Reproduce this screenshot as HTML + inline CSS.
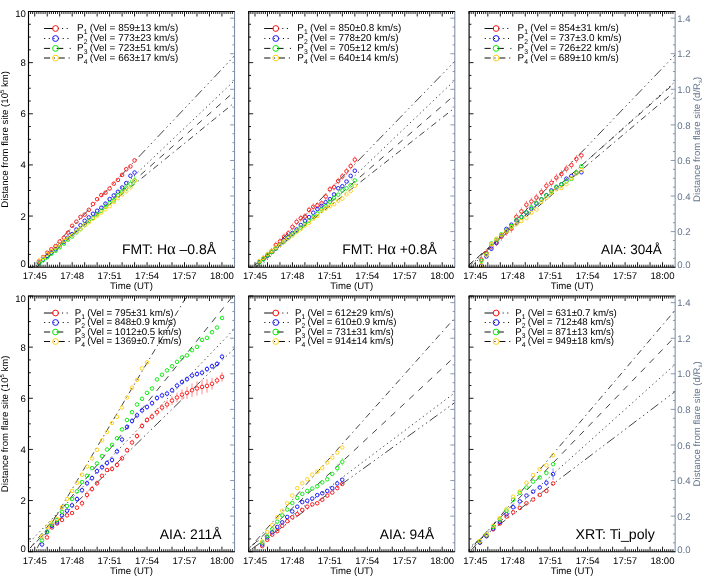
<!DOCTYPE html>
<html><head><meta charset="utf-8"><title>chart</title>
<style>
html,body{margin:0;padding:0;background:#fff;overflow:hidden}
svg{display:block;will-change:transform}
text{font-family:"Liberation Sans",sans-serif;text-rendering:geometricPrecision}
</style></head><body>
<svg width="710" height="581" viewBox="0 0 710 581">
<rect x="0" y="0" width="710" height="581" fill="#ffffff"/>
<defs>
<clipPath id="cp0"><rect x="28.5" y="11.5" width="206.05" height="255.7"/></clipPath>
<clipPath id="cp1"><rect x="248.75" y="11.5" width="206.05" height="255.7"/></clipPath>
<clipPath id="cp2"><rect x="469.1" y="11.5" width="206.05" height="255.7"/></clipPath>
<clipPath id="cp3"><rect x="28.5" y="296" width="206.05" height="255.7"/></clipPath>
<clipPath id="cp4"><rect x="248.75" y="296" width="206.05" height="255.7"/></clipPath>
<clipPath id="cp5"><rect x="469.1" y="296" width="206.05" height="255.7"/></clipPath>
</defs>
<g>
<g clip-path="url(#cp0)" fill="none" stroke="#1a1a1a" stroke-width="0.82">
<path d="M239.55 50.53 L23.5 278.43" stroke-dasharray="9.7 3.2 1.4 3.4 1.4 3.4 1.4 3.5"/>
<path d="M239.55 75.75 L23.5 280.97" stroke-dasharray="1.3 3.2"/>
<path d="M239.55 86.96 L23.5 278.9" stroke-dasharray="6.3 6.3"/>
<path d="M239.55 98.53 L23.5 274.54" stroke-dasharray="6.3 3.7 1.3 3.7"/>
</g>
<path clip-path="url(#cp0)" d="M0 0" stroke="#ff8888" stroke-width="1.0" fill="none"/>
<g clip-path="url(#cp0)" fill="none" stroke="#ff1414" stroke-width="0.95"><circle cx="38.9" cy="261.6" r="1.78"/><circle cx="43.06" cy="257" r="1.78"/><circle cx="47.22" cy="252.7" r="1.78"/><circle cx="51.38" cy="249.2" r="1.78"/><circle cx="55.54" cy="246.1" r="1.78"/><circle cx="59.7" cy="241.5" r="1.78"/><circle cx="63.86" cy="237.8" r="1.78"/><circle cx="68.02" cy="232.6" r="1.78"/><circle cx="72.18" cy="225.8" r="1.78"/><circle cx="76.34" cy="221.7" r="1.78"/><circle cx="80.5" cy="216.9" r="1.78"/><circle cx="84.66" cy="214.6" r="1.78"/><circle cx="88.82" cy="209.8" r="1.78"/><circle cx="92.98" cy="204" r="1.78"/><circle cx="97.14" cy="199.2" r="1.78"/><circle cx="101.3" cy="195.1" r="1.78"/><circle cx="105.46" cy="192.7" r="1.78"/><circle cx="109.62" cy="188.5" r="1.78"/><circle cx="113.78" cy="183.7" r="1.78"/><circle cx="117.94" cy="179.9" r="1.78"/><circle cx="122.1" cy="174.9" r="1.78"/><circle cx="126.26" cy="169.2" r="1.78"/><circle cx="130.42" cy="166.4" r="1.78"/><circle cx="134.58" cy="160.4" r="1.78"/></g>
<path clip-path="url(#cp0)" d="M0 0" stroke="#8c8cff" stroke-width="1.0" fill="none"/>
<g clip-path="url(#cp0)" fill="none" stroke="#1616ff" stroke-width="0.95"><circle cx="38.9" cy="262.84" r="1.78"/><circle cx="43.06" cy="259.59" r="1.78"/><circle cx="47.22" cy="256.04" r="1.78"/><circle cx="51.38" cy="252.69" r="1.78"/><circle cx="55.54" cy="249.33" r="1.78"/><circle cx="59.7" cy="245.18" r="1.78"/><circle cx="63.86" cy="241.83" r="1.78"/><circle cx="68.02" cy="237.68" r="1.78"/><circle cx="72.18" cy="234.13" r="1.78"/><circle cx="76.34" cy="229.58" r="1.78"/><circle cx="80.5" cy="225.23" r="1.78"/><circle cx="84.66" cy="220.77" r="1.78"/><circle cx="88.82" cy="217.42" r="1.78"/><circle cx="92.98" cy="213.77" r="1.78"/><circle cx="97.14" cy="210.77" r="1.78"/><circle cx="101.3" cy="207.77" r="1.78"/><circle cx="105.46" cy="203.62" r="1.78"/><circle cx="109.62" cy="199.07" r="1.78"/><circle cx="113.78" cy="195.46" r="1.78"/><circle cx="117.94" cy="191.76" r="1.78"/><circle cx="122.1" cy="187.56" r="1.78"/><circle cx="126.26" cy="183.06" r="1.78"/><circle cx="130.42" cy="175.81" r="1.78"/><circle cx="134.58" cy="172.56" r="1.78"/></g>
<path clip-path="url(#cp0)" d="M122.1 188.4V189.6M122.1 193.6V194.8M126.26 184.11V185.71M126.26 189.71V191.31M130.42 179.71V181.91M130.42 185.91V188.11M134.58 176.02V178.42M134.58 182.42V184.82" stroke="#7aee7a" stroke-width="1.0" fill="none"/>
<g clip-path="url(#cp0)" fill="none" stroke="#08ec08" stroke-width="0.95"><circle cx="38.9" cy="263.32" r="1.78"/><circle cx="43.06" cy="260.12" r="1.78"/><circle cx="47.22" cy="257.23" r="1.78"/><circle cx="51.38" cy="253.73" r="1.78"/><circle cx="55.54" cy="250.74" r="1.78"/><circle cx="59.7" cy="247.34" r="1.78"/><circle cx="63.86" cy="243.64" r="1.78"/><circle cx="68.02" cy="239.55" r="1.78"/><circle cx="72.18" cy="236.45" r="1.78"/><circle cx="76.34" cy="232.36" r="1.78"/><circle cx="80.5" cy="229.16" r="1.78"/><circle cx="84.66" cy="225.07" r="1.78"/><circle cx="88.82" cy="221.07" r="1.78"/><circle cx="92.98" cy="217.87" r="1.78"/><circle cx="97.14" cy="214.38" r="1.78"/><circle cx="101.3" cy="210.78" r="1.78"/><circle cx="105.46" cy="206.89" r="1.78"/><circle cx="109.62" cy="202.99" r="1.78"/><circle cx="113.78" cy="200.29" r="1.78"/><circle cx="117.94" cy="195.2" r="1.78"/><circle cx="122.1" cy="191.6" r="1.78"/><circle cx="126.26" cy="187.71" r="1.78"/><circle cx="130.42" cy="183.91" r="1.78"/><circle cx="134.58" cy="180.42" r="1.78"/></g>
<path clip-path="url(#cp0)" d="M0 0" stroke="#ffe07a" stroke-width="1.0" fill="none"/>
<g clip-path="url(#cp0)" fill="none" stroke="#ffd118" stroke-width="0.95"><circle cx="38.9" cy="260.49" r="1.78"/><circle cx="43.06" cy="257.61" r="1.78"/><circle cx="47.22" cy="253.82" r="1.78"/><circle cx="51.38" cy="251.23" r="1.78"/><circle cx="55.54" cy="247.54" r="1.78"/><circle cx="59.7" cy="244.85" r="1.78"/><circle cx="63.86" cy="241.06" r="1.78"/><circle cx="68.02" cy="238.47" r="1.78"/><circle cx="72.18" cy="235.38" r="1.78"/><circle cx="76.34" cy="231.79" r="1.78"/><circle cx="80.5" cy="229" r="1.78"/><circle cx="84.66" cy="225.31" r="1.78"/><circle cx="88.82" cy="222.33" r="1.78"/><circle cx="92.98" cy="218.74" r="1.78"/><circle cx="97.14" cy="215.75" r="1.78"/><circle cx="101.3" cy="212.56" r="1.78"/><circle cx="105.46" cy="209.27" r="1.78"/><circle cx="109.62" cy="206.28" r="1.78"/><circle cx="113.78" cy="201.99" r="1.78"/><circle cx="117.94" cy="198.2" r="1.78"/><circle cx="122.1" cy="194.41" r="1.78"/><circle cx="126.26" cy="191.22" r="1.78"/><circle cx="130.42" cy="187.53" r="1.78"/><circle cx="134.58" cy="180.94" r="1.78"/></g>
<path d="M28.5 267.2v-2.5M28.5 11.5v2.5M30.58 267.2v-2.5M30.58 11.5v2.5M32.66 267.2v-2.5M32.66 11.5v2.5M34.74 267.2v-5M34.74 11.5v5M36.82 267.2v-2.5M36.82 11.5v2.5M38.9 267.2v-2.5M38.9 11.5v2.5M40.98 267.2v-2.5M40.98 11.5v2.5M43.06 267.2v-2.5M43.06 11.5v2.5M45.14 267.2v-2.5M45.14 11.5v2.5M47.22 267.2v-5M47.22 11.5v5M49.3 267.2v-2.5M49.3 11.5v2.5M51.38 267.2v-2.5M51.38 11.5v2.5M53.46 267.2v-2.5M53.46 11.5v2.5M55.54 267.2v-2.5M55.54 11.5v2.5M57.62 267.2v-2.5M57.62 11.5v2.5M59.7 267.2v-5M59.7 11.5v5M61.78 267.2v-2.5M61.78 11.5v2.5M63.86 267.2v-2.5M63.86 11.5v2.5M65.94 267.2v-2.5M65.94 11.5v2.5M68.02 267.2v-2.5M68.02 11.5v2.5M70.1 267.2v-2.5M70.1 11.5v2.5M72.18 267.2v-5M72.18 11.5v5M74.26 267.2v-2.5M74.26 11.5v2.5M76.34 267.2v-2.5M76.34 11.5v2.5M78.42 267.2v-2.5M78.42 11.5v2.5M80.5 267.2v-2.5M80.5 11.5v2.5M82.58 267.2v-2.5M82.58 11.5v2.5M84.66 267.2v-5M84.66 11.5v5M86.74 267.2v-2.5M86.74 11.5v2.5M88.82 267.2v-2.5M88.82 11.5v2.5M90.9 267.2v-2.5M90.9 11.5v2.5M92.98 267.2v-2.5M92.98 11.5v2.5M95.06 267.2v-2.5M95.06 11.5v2.5M97.14 267.2v-5M97.14 11.5v5M99.22 267.2v-2.5M99.22 11.5v2.5M101.3 267.2v-2.5M101.3 11.5v2.5M103.38 267.2v-2.5M103.38 11.5v2.5M105.46 267.2v-2.5M105.46 11.5v2.5M107.54 267.2v-2.5M107.54 11.5v2.5M109.62 267.2v-5M109.62 11.5v5M111.7 267.2v-2.5M111.7 11.5v2.5M113.78 267.2v-2.5M113.78 11.5v2.5M115.86 267.2v-2.5M115.86 11.5v2.5M117.94 267.2v-2.5M117.94 11.5v2.5M120.02 267.2v-2.5M120.02 11.5v2.5M122.1 267.2v-5M122.1 11.5v5M124.18 267.2v-2.5M124.18 11.5v2.5M126.26 267.2v-2.5M126.26 11.5v2.5M128.34 267.2v-2.5M128.34 11.5v2.5M130.42 267.2v-2.5M130.42 11.5v2.5M132.5 267.2v-2.5M132.5 11.5v2.5M134.58 267.2v-5M134.58 11.5v5M136.66 267.2v-2.5M136.66 11.5v2.5M138.74 267.2v-2.5M138.74 11.5v2.5M140.82 267.2v-2.5M140.82 11.5v2.5M142.9 267.2v-2.5M142.9 11.5v2.5M144.98 267.2v-2.5M144.98 11.5v2.5M147.06 267.2v-5M147.06 11.5v5M149.14 267.2v-2.5M149.14 11.5v2.5M151.22 267.2v-2.5M151.22 11.5v2.5M153.3 267.2v-2.5M153.3 11.5v2.5M155.38 267.2v-2.5M155.38 11.5v2.5M157.46 267.2v-2.5M157.46 11.5v2.5M159.54 267.2v-5M159.54 11.5v5M161.62 267.2v-2.5M161.62 11.5v2.5M163.7 267.2v-2.5M163.7 11.5v2.5M165.78 267.2v-2.5M165.78 11.5v2.5M167.86 267.2v-2.5M167.86 11.5v2.5M169.94 267.2v-2.5M169.94 11.5v2.5M172.02 267.2v-5M172.02 11.5v5M174.1 267.2v-2.5M174.1 11.5v2.5M176.18 267.2v-2.5M176.18 11.5v2.5M178.26 267.2v-2.5M178.26 11.5v2.5M180.34 267.2v-2.5M180.34 11.5v2.5M182.42 267.2v-2.5M182.42 11.5v2.5M184.5 267.2v-5M184.5 11.5v5M186.58 267.2v-2.5M186.58 11.5v2.5M188.66 267.2v-2.5M188.66 11.5v2.5M190.74 267.2v-2.5M190.74 11.5v2.5M192.82 267.2v-2.5M192.82 11.5v2.5M194.9 267.2v-2.5M194.9 11.5v2.5M196.98 267.2v-5M196.98 11.5v5M199.06 267.2v-2.5M199.06 11.5v2.5M201.14 267.2v-2.5M201.14 11.5v2.5M203.22 267.2v-2.5M203.22 11.5v2.5M205.3 267.2v-2.5M205.3 11.5v2.5M207.38 267.2v-2.5M207.38 11.5v2.5M209.46 267.2v-5M209.46 11.5v5M211.54 267.2v-2.5M211.54 11.5v2.5M213.62 267.2v-2.5M213.62 11.5v2.5M215.7 267.2v-2.5M215.7 11.5v2.5M217.78 267.2v-2.5M217.78 11.5v2.5M219.86 267.2v-2.5M219.86 11.5v2.5M221.94 267.2v-5M221.94 11.5v5M224.02 267.2v-2.5M224.02 11.5v2.5M226.1 267.2v-2.5M226.1 11.5v2.5M228.18 267.2v-2.5M228.18 11.5v2.5M230.26 267.2v-2.5M230.26 11.5v2.5M232.34 267.2v-2.5M232.34 11.5v2.5M28.5 267.2h4.4M28.5 254.41h2.3M28.5 241.63h2.3M28.5 228.84h2.3M28.5 216.06h4.4M28.5 203.27h2.3M28.5 190.49h2.3M28.5 177.7h2.3M28.5 164.92h4.4M28.5 152.13h2.3M28.5 139.35h2.3M28.5 126.56h2.3M28.5 113.78h4.4M28.5 100.99h2.3M28.5 88.21h2.3M28.5 75.42h2.3M28.5 62.64h4.4M28.5 49.85h2.3M28.5 37.07h2.3M28.5 24.28h2.3M28.5 11.5h4.4" stroke="#000" stroke-width="0.9" fill="none"/>
<path d="M234.55 267.2h-4.4M234.55 258.31h-2.2M234.55 249.41h-2.2M234.55 240.52h-2.2M234.55 231.62h-4.4M234.55 222.73h-2.2M234.55 213.83h-2.2M234.55 204.94h-2.2M234.55 196.04h-4.4M234.55 187.15h-2.2M234.55 178.25h-2.2M234.55 169.36h-2.2M234.55 160.47h-4.4M234.55 151.57h-2.2M234.55 142.68h-2.2M234.55 133.78h-2.2M234.55 124.89h-4.4M234.55 115.99h-2.2M234.55 107.1h-2.2M234.55 98.2h-2.2M234.55 89.31h-4.4M234.55 80.41h-2.2M234.55 71.52h-2.2M234.55 62.63h-2.2M234.55 53.73h-4.4M234.55 44.84h-2.2M234.55 35.94h-2.2M234.55 27.05h-2.2M234.55 18.15h-4.4" stroke="#7d8ca3" stroke-width="0.9" fill="none"/>
<path d="M234.55 11.5V267.2" stroke="#7d8ca3" stroke-width="1.05" fill="none"/>
<path d="M234.85 11.5H28.5V267.2H234.85" stroke="#000" stroke-width="1.15" fill="none" stroke-linejoin="miter"/>
<path d="M43.9 28.5h9.4 M57.8 28.5h1.1 M62 28.5h1.1 M66.6 28.5h1.1" stroke="#111" stroke-width="1" fill="none"/>
<circle cx="55.5" cy="28.5" r="2.9" fill="none" stroke="#ff1414" stroke-width="1.0"/>
<text x="77" y="31.2" font-size="9.95">P<tspan dy="2.8" font-size="6.8">1</tspan><tspan dy="-2.8" dx="-0.5"> (Vel = 859±13 km/s)</tspan></text>
<path d="M44.1 38.5h1.1M48.75 38.5h1.1M53.4 38.5h1.1M58.05 38.5h1.1M62.7 38.5h1.1M67.35 38.5h1.1" stroke="#111" stroke-width="1" fill="none"/>
<circle cx="55.5" cy="38.5" r="2.9" fill="none" stroke="#1616ff" stroke-width="1.0"/>
<text x="77" y="41.2" font-size="9.95">P<tspan dy="2.8" font-size="6.8">2</tspan><tspan dy="-2.8" dx="-0.5"> (Vel = 773±23 km/s)</tspan></text>
<path d="M43.9 48.4h6.2 M56.7 48.4h6.6 M69.7 48.4h1.1" stroke="#111" stroke-width="1" fill="none"/>
<circle cx="55.5" cy="48.4" r="2.9" fill="none" stroke="#08ec08" stroke-width="1.0"/>
<text x="77" y="51.1" font-size="9.95">P<tspan dy="2.8" font-size="6.8">3</tspan><tspan dy="-2.8" dx="-0.5"> (Vel = 723±51 km/s)</tspan></text>
<path d="M43.9 58h6.2 M53.8 58h1.1 M58.6 58h6.2 M68.6 58h1.1" stroke="#111" stroke-width="1" fill="none"/>
<circle cx="55.5" cy="58" r="2.9" fill="none" stroke="#ffd118" stroke-width="1.0"/>
<text x="77" y="60.7" font-size="9.95">P<tspan dy="2.8" font-size="6.8">4</tspan><tspan dy="-2.8" dx="-0.5"> (Vel = 663±17 km/s)</tspan></text>
<text x="121.9" y="254.3" font-size="14">FMT: H<tspan font-family="Liberation Serif, serif" font-style="normal" font-size="16.5">α</tspan> –0.8Å</text>
<text x="34.74" y="279.2" font-size="9.6" text-anchor="middle">17:45</text>
<text x="72.18" y="279.2" font-size="9.6" text-anchor="middle">17:48</text>
<text x="109.62" y="279.2" font-size="9.6" text-anchor="middle">17:51</text>
<text x="147.06" y="279.2" font-size="9.6" text-anchor="middle">17:54</text>
<text x="184.5" y="279.2" font-size="9.6" text-anchor="middle">17:57</text>
<text x="221.94" y="279.2" font-size="9.6" text-anchor="middle">18:00</text>
<text x="131.53" y="289.3" font-size="9.6" text-anchor="middle">Time (UT)</text>
<text x="25.8" y="266.85" font-size="9.6" text-anchor="end">0</text>
<text x="25.8" y="219.51" font-size="9.6" text-anchor="end">2</text>
<text x="25.8" y="168.37" font-size="9.6" text-anchor="end">4</text>
<text x="25.8" y="117.23" font-size="9.6" text-anchor="end">6</text>
<text x="25.8" y="66.09" font-size="9.6" text-anchor="end">8</text>
<text x="25.8" y="17.25" font-size="9.6" text-anchor="end">10</text>
<text transform="translate(8.0 139.35) rotate(-90)" font-size="9.6" text-anchor="middle">Distance from flare site (10<tspan dy="-3.6" font-size="6">5</tspan><tspan dy="3.6"> km)</tspan></text>
</g>
<g>
<g clip-path="url(#cp1)" fill="none" stroke="#1a1a1a" stroke-width="0.82">
<path d="M459.8 56.16 L243.75 278.4" stroke-dasharray="9.7 3.2 1.4 3.4 1.4 3.4 1.4 3.5"/>
<path d="M459.8 75.42 L243.75 281.97" stroke-dasharray="1.3 3.2"/>
<path d="M459.8 90.57 L243.75 277.73" stroke-dasharray="6.3 6.3"/>
<path d="M459.8 103.87 L243.75 273.78" stroke-dasharray="6.3 3.7 1.3 3.7"/>
</g>
<path clip-path="url(#cp1)" d="M259.15 258.8V260.2M259.15 264.2V265.6M263.31 255.1V256.5M263.31 260.5V261.9M267.47 252V253.4M267.47 257.4V258.8M271.63 247.8V249.2M271.63 253.2V254.6M275.79 241.6V243M275.79 247V248.4M279.95 238.1V239.5M279.95 243.5V244.9M284.11 233.4V234.8M284.11 238.8V240.2M288.27 229.9V231.3M288.27 235.3V236.7M292.43 223.5V224.9M292.43 228.9V230.3M296.59 218.5V219.9M296.59 223.9V225.3M300.75 214.8V216.2M300.75 220.2V221.6M304.91 213.1V214.5M304.91 218.5V219.9M309.07 206.5V207.9M309.07 211.9V213.3M313.23 203.4V204.8M313.23 208.8V210.2M317.39 202V203.4M317.39 207.4V208.8M321.55 199.9V201.3M321.55 205.3V206.7M325.71 193.1V194.5M325.71 198.5V199.9M329.87 185.9V187.3M329.87 191.3V192.7M334.03 183.8V185.2M334.03 189.2V190.6M338.19 177.6V179M338.19 183V184.4M342.35 173V174.4M342.35 178.4V179.8M346.51 167.9V169.3M346.51 173.3V174.7M350.67 162.7V164.1M350.67 168.1V169.5M354.83 156.3V157.7M354.83 161.7V163.1" stroke="#ff8888" stroke-width="1.0" fill="none"/>
<g clip-path="url(#cp1)" fill="none" stroke="#ff1414" stroke-width="0.95"><circle cx="259.15" cy="262.2" r="1.78"/><circle cx="263.31" cy="258.5" r="1.78"/><circle cx="267.47" cy="255.4" r="1.78"/><circle cx="271.63" cy="251.2" r="1.78"/><circle cx="275.79" cy="245" r="1.78"/><circle cx="279.95" cy="241.5" r="1.78"/><circle cx="284.11" cy="236.8" r="1.78"/><circle cx="288.27" cy="233.3" r="1.78"/><circle cx="292.43" cy="226.9" r="1.78"/><circle cx="296.59" cy="221.9" r="1.78"/><circle cx="300.75" cy="218.2" r="1.78"/><circle cx="304.91" cy="216.5" r="1.78"/><circle cx="309.07" cy="209.9" r="1.78"/><circle cx="313.23" cy="206.8" r="1.78"/><circle cx="317.39" cy="205.4" r="1.78"/><circle cx="321.55" cy="203.3" r="1.78"/><circle cx="325.71" cy="196.5" r="1.78"/><circle cx="329.87" cy="189.3" r="1.78"/><circle cx="334.03" cy="187.2" r="1.78"/><circle cx="338.19" cy="181" r="1.78"/><circle cx="342.35" cy="176.4" r="1.78"/><circle cx="346.51" cy="171.3" r="1.78"/><circle cx="350.67" cy="166.1" r="1.78"/><circle cx="354.83" cy="159.7" r="1.78"/></g>
<path clip-path="url(#cp1)" d="M0 0" stroke="#8c8cff" stroke-width="1.0" fill="none"/>
<g clip-path="url(#cp1)" fill="none" stroke="#1616ff" stroke-width="0.95"><circle cx="259.15" cy="262.24" r="1.78"/><circle cx="263.31" cy="259.07" r="1.78"/><circle cx="267.47" cy="255.69" r="1.78"/><circle cx="271.63" cy="251.91" r="1.78"/><circle cx="275.79" cy="248.33" r="1.78"/><circle cx="279.95" cy="244.56" r="1.78"/><circle cx="284.11" cy="240.58" r="1.78"/><circle cx="288.27" cy="237" r="1.78"/><circle cx="292.43" cy="233.03" r="1.78"/><circle cx="296.59" cy="229.45" r="1.78"/><circle cx="300.75" cy="225.07" r="1.78"/><circle cx="304.91" cy="220.9" r="1.78"/><circle cx="309.07" cy="217.12" r="1.78"/><circle cx="313.23" cy="212.74" r="1.78"/><circle cx="317.39" cy="209.06" r="1.78"/><circle cx="321.55" cy="205.89" r="1.78"/><circle cx="325.71" cy="202.21" r="1.78"/><circle cx="329.87" cy="199.13" r="1.78"/><circle cx="334.03" cy="194.46" r="1.78"/><circle cx="338.19" cy="188.28" r="1.78"/><circle cx="342.35" cy="186.3" r="1.78"/><circle cx="346.51" cy="181.53" r="1.78"/><circle cx="350.67" cy="175.85" r="1.78"/><circle cx="354.83" cy="170.77" r="1.78"/></g>
<path clip-path="url(#cp1)" d="M0 0" stroke="#7aee7a" stroke-width="1.0" fill="none"/>
<g clip-path="url(#cp1)" fill="none" stroke="#08ec08" stroke-width="0.95"><circle cx="259.15" cy="262.49" r="1.78"/><circle cx="263.31" cy="259.19" r="1.78"/><circle cx="267.47" cy="255.38" r="1.78"/><circle cx="271.63" cy="252.18" r="1.78"/><circle cx="275.79" cy="248.38" r="1.78"/><circle cx="279.95" cy="244.77" r="1.78"/><circle cx="284.11" cy="241.57" r="1.78"/><circle cx="288.27" cy="237.77" r="1.78"/><circle cx="292.43" cy="234.16" r="1.78"/><circle cx="296.59" cy="230.96" r="1.78"/><circle cx="300.75" cy="227.55" r="1.78"/><circle cx="304.91" cy="223.75" r="1.78"/><circle cx="309.07" cy="220.55" r="1.78"/><circle cx="313.23" cy="216.64" r="1.78"/><circle cx="317.39" cy="213.44" r="1.78"/><circle cx="321.55" cy="209.34" r="1.78"/><circle cx="325.71" cy="206.13" r="1.78"/><circle cx="329.87" cy="201.83" r="1.78"/><circle cx="334.03" cy="198.02" r="1.78"/><circle cx="338.19" cy="194.72" r="1.78"/><circle cx="342.35" cy="190.42" r="1.78"/><circle cx="346.51" cy="188.31" r="1.78"/><circle cx="350.67" cy="185.21" r="1.78"/><circle cx="354.83" cy="180.5" r="1.78"/></g>
<path clip-path="url(#cp1)" d="M0 0" stroke="#ffe07a" stroke-width="1.0" fill="none"/>
<g clip-path="url(#cp1)" fill="none" stroke="#ffd118" stroke-width="0.95"><circle cx="259.15" cy="261.17" r="1.78"/><circle cx="263.31" cy="257.99" r="1.78"/><circle cx="267.47" cy="254.12" r="1.78"/><circle cx="271.63" cy="251.15" r="1.78"/><circle cx="275.79" cy="247.58" r="1.78"/><circle cx="279.95" cy="244.81" r="1.78"/><circle cx="284.11" cy="241.14" r="1.78"/><circle cx="288.27" cy="238.36" r="1.78"/><circle cx="292.43" cy="235.49" r="1.78"/><circle cx="296.59" cy="231.92" r="1.78"/><circle cx="300.75" cy="229.15" r="1.78"/><circle cx="304.91" cy="225.58" r="1.78"/><circle cx="309.07" cy="222.71" r="1.78"/><circle cx="313.23" cy="218.64" r="1.78"/><circle cx="317.39" cy="216.06" r="1.78"/><circle cx="321.55" cy="211.09" r="1.78"/><circle cx="325.71" cy="208.62" r="1.78"/><circle cx="329.87" cy="206.35" r="1.78"/><circle cx="334.03" cy="204.18" r="1.78"/><circle cx="338.19" cy="200.71" r="1.78"/><circle cx="342.35" cy="198.63" r="1.78"/><circle cx="346.51" cy="194.46" r="1.78"/><circle cx="350.67" cy="190.99" r="1.78"/><circle cx="354.83" cy="185.82" r="1.78"/></g>
<path d="M248.75 267.2v-2.5M248.75 11.5v2.5M250.83 267.2v-2.5M250.83 11.5v2.5M252.91 267.2v-2.5M252.91 11.5v2.5M254.99 267.2v-5M254.99 11.5v5M257.07 267.2v-2.5M257.07 11.5v2.5M259.15 267.2v-2.5M259.15 11.5v2.5M261.23 267.2v-2.5M261.23 11.5v2.5M263.31 267.2v-2.5M263.31 11.5v2.5M265.39 267.2v-2.5M265.39 11.5v2.5M267.47 267.2v-5M267.47 11.5v5M269.55 267.2v-2.5M269.55 11.5v2.5M271.63 267.2v-2.5M271.63 11.5v2.5M273.71 267.2v-2.5M273.71 11.5v2.5M275.79 267.2v-2.5M275.79 11.5v2.5M277.87 267.2v-2.5M277.87 11.5v2.5M279.95 267.2v-5M279.95 11.5v5M282.03 267.2v-2.5M282.03 11.5v2.5M284.11 267.2v-2.5M284.11 11.5v2.5M286.19 267.2v-2.5M286.19 11.5v2.5M288.27 267.2v-2.5M288.27 11.5v2.5M290.35 267.2v-2.5M290.35 11.5v2.5M292.43 267.2v-5M292.43 11.5v5M294.51 267.2v-2.5M294.51 11.5v2.5M296.59 267.2v-2.5M296.59 11.5v2.5M298.67 267.2v-2.5M298.67 11.5v2.5M300.75 267.2v-2.5M300.75 11.5v2.5M302.83 267.2v-2.5M302.83 11.5v2.5M304.91 267.2v-5M304.91 11.5v5M306.99 267.2v-2.5M306.99 11.5v2.5M309.07 267.2v-2.5M309.07 11.5v2.5M311.15 267.2v-2.5M311.15 11.5v2.5M313.23 267.2v-2.5M313.23 11.5v2.5M315.31 267.2v-2.5M315.31 11.5v2.5M317.39 267.2v-5M317.39 11.5v5M319.47 267.2v-2.5M319.47 11.5v2.5M321.55 267.2v-2.5M321.55 11.5v2.5M323.63 267.2v-2.5M323.63 11.5v2.5M325.71 267.2v-2.5M325.71 11.5v2.5M327.79 267.2v-2.5M327.79 11.5v2.5M329.87 267.2v-5M329.87 11.5v5M331.95 267.2v-2.5M331.95 11.5v2.5M334.03 267.2v-2.5M334.03 11.5v2.5M336.11 267.2v-2.5M336.11 11.5v2.5M338.19 267.2v-2.5M338.19 11.5v2.5M340.27 267.2v-2.5M340.27 11.5v2.5M342.35 267.2v-5M342.35 11.5v5M344.43 267.2v-2.5M344.43 11.5v2.5M346.51 267.2v-2.5M346.51 11.5v2.5M348.59 267.2v-2.5M348.59 11.5v2.5M350.67 267.2v-2.5M350.67 11.5v2.5M352.75 267.2v-2.5M352.75 11.5v2.5M354.83 267.2v-5M354.83 11.5v5M356.91 267.2v-2.5M356.91 11.5v2.5M358.99 267.2v-2.5M358.99 11.5v2.5M361.07 267.2v-2.5M361.07 11.5v2.5M363.15 267.2v-2.5M363.15 11.5v2.5M365.23 267.2v-2.5M365.23 11.5v2.5M367.31 267.2v-5M367.31 11.5v5M369.39 267.2v-2.5M369.39 11.5v2.5M371.47 267.2v-2.5M371.47 11.5v2.5M373.55 267.2v-2.5M373.55 11.5v2.5M375.63 267.2v-2.5M375.63 11.5v2.5M377.71 267.2v-2.5M377.71 11.5v2.5M379.79 267.2v-5M379.79 11.5v5M381.87 267.2v-2.5M381.87 11.5v2.5M383.95 267.2v-2.5M383.95 11.5v2.5M386.03 267.2v-2.5M386.03 11.5v2.5M388.11 267.2v-2.5M388.11 11.5v2.5M390.19 267.2v-2.5M390.19 11.5v2.5M392.27 267.2v-5M392.27 11.5v5M394.35 267.2v-2.5M394.35 11.5v2.5M396.43 267.2v-2.5M396.43 11.5v2.5M398.51 267.2v-2.5M398.51 11.5v2.5M400.59 267.2v-2.5M400.59 11.5v2.5M402.67 267.2v-2.5M402.67 11.5v2.5M404.75 267.2v-5M404.75 11.5v5M406.83 267.2v-2.5M406.83 11.5v2.5M408.91 267.2v-2.5M408.91 11.5v2.5M410.99 267.2v-2.5M410.99 11.5v2.5M413.07 267.2v-2.5M413.07 11.5v2.5M415.15 267.2v-2.5M415.15 11.5v2.5M417.23 267.2v-5M417.23 11.5v5M419.31 267.2v-2.5M419.31 11.5v2.5M421.39 267.2v-2.5M421.39 11.5v2.5M423.47 267.2v-2.5M423.47 11.5v2.5M425.55 267.2v-2.5M425.55 11.5v2.5M427.63 267.2v-2.5M427.63 11.5v2.5M429.71 267.2v-5M429.71 11.5v5M431.79 267.2v-2.5M431.79 11.5v2.5M433.87 267.2v-2.5M433.87 11.5v2.5M435.95 267.2v-2.5M435.95 11.5v2.5M438.03 267.2v-2.5M438.03 11.5v2.5M440.11 267.2v-2.5M440.11 11.5v2.5M442.19 267.2v-5M442.19 11.5v5M444.27 267.2v-2.5M444.27 11.5v2.5M446.35 267.2v-2.5M446.35 11.5v2.5M448.43 267.2v-2.5M448.43 11.5v2.5M450.51 267.2v-2.5M450.51 11.5v2.5M452.59 267.2v-2.5M452.59 11.5v2.5M248.75 267.2h4.4M248.75 254.41h2.3M248.75 241.63h2.3M248.75 228.84h2.3M248.75 216.06h4.4M248.75 203.27h2.3M248.75 190.49h2.3M248.75 177.7h2.3M248.75 164.92h4.4M248.75 152.13h2.3M248.75 139.35h2.3M248.75 126.56h2.3M248.75 113.78h4.4M248.75 100.99h2.3M248.75 88.21h2.3M248.75 75.42h2.3M248.75 62.64h4.4M248.75 49.85h2.3M248.75 37.07h2.3M248.75 24.28h2.3M248.75 11.5h4.4" stroke="#000" stroke-width="0.9" fill="none"/>
<path d="M454.8 267.2h-4.4M454.8 258.31h-2.2M454.8 249.41h-2.2M454.8 240.52h-2.2M454.8 231.62h-4.4M454.8 222.73h-2.2M454.8 213.83h-2.2M454.8 204.94h-2.2M454.8 196.04h-4.4M454.8 187.15h-2.2M454.8 178.25h-2.2M454.8 169.36h-2.2M454.8 160.47h-4.4M454.8 151.57h-2.2M454.8 142.68h-2.2M454.8 133.78h-2.2M454.8 124.89h-4.4M454.8 115.99h-2.2M454.8 107.1h-2.2M454.8 98.2h-2.2M454.8 89.31h-4.4M454.8 80.41h-2.2M454.8 71.52h-2.2M454.8 62.63h-2.2M454.8 53.73h-4.4M454.8 44.84h-2.2M454.8 35.94h-2.2M454.8 27.05h-2.2M454.8 18.15h-4.4" stroke="#7d8ca3" stroke-width="0.9" fill="none"/>
<path d="M454.8 11.5V267.2" stroke="#7d8ca3" stroke-width="1.05" fill="none"/>
<path d="M455.1 11.5H248.75V267.2H455.1" stroke="#000" stroke-width="1.15" fill="none" stroke-linejoin="miter"/>
<path d="M264.15 28.5h9.4 M278.05 28.5h1.1 M282.25 28.5h1.1 M286.85 28.5h1.1" stroke="#111" stroke-width="1" fill="none"/>
<circle cx="275.75" cy="28.5" r="2.9" fill="none" stroke="#ff1414" stroke-width="1.0"/>
<text x="297.25" y="31.2" font-size="9.95">P<tspan dy="2.8" font-size="6.8">1</tspan><tspan dy="-2.8" dx="-0.5"> (Vel = 850±0.8 km/s)</tspan></text>
<path d="M264.35 38.5h1.1M269 38.5h1.1M273.65 38.5h1.1M278.3 38.5h1.1M282.95 38.5h1.1M287.6 38.5h1.1" stroke="#111" stroke-width="1" fill="none"/>
<circle cx="275.75" cy="38.5" r="2.9" fill="none" stroke="#1616ff" stroke-width="1.0"/>
<text x="297.25" y="41.2" font-size="9.95">P<tspan dy="2.8" font-size="6.8">2</tspan><tspan dy="-2.8" dx="-0.5"> (Vel = 778±20 km/s)</tspan></text>
<path d="M264.15 48.4h6.2 M276.95 48.4h6.6 M289.95 48.4h1.1" stroke="#111" stroke-width="1" fill="none"/>
<circle cx="275.75" cy="48.4" r="2.9" fill="none" stroke="#08ec08" stroke-width="1.0"/>
<text x="297.25" y="51.1" font-size="9.95">P<tspan dy="2.8" font-size="6.8">3</tspan><tspan dy="-2.8" dx="-0.5"> (Vel = 705±12 km/s)</tspan></text>
<path d="M264.15 58h6.2 M274.05 58h1.1 M278.85 58h6.2 M288.85 58h1.1" stroke="#111" stroke-width="1" fill="none"/>
<circle cx="275.75" cy="58" r="2.9" fill="none" stroke="#ffd118" stroke-width="1.0"/>
<text x="297.25" y="60.7" font-size="9.95">P<tspan dy="2.8" font-size="6.8">4</tspan><tspan dy="-2.8" dx="-0.5"> (Vel = 640±14 km/s)</tspan></text>
<text x="342.2" y="254.3" font-size="14">FMT: H<tspan font-family="Liberation Serif, serif" font-style="normal" font-size="16.5">α</tspan> +0.8Å</text>
<text x="254.99" y="279.2" font-size="9.6" text-anchor="middle">17:45</text>
<text x="292.43" y="279.2" font-size="9.6" text-anchor="middle">17:48</text>
<text x="329.87" y="279.2" font-size="9.6" text-anchor="middle">17:51</text>
<text x="367.31" y="279.2" font-size="9.6" text-anchor="middle">17:54</text>
<text x="404.75" y="279.2" font-size="9.6" text-anchor="middle">17:57</text>
<text x="442.19" y="279.2" font-size="9.6" text-anchor="middle">18:00</text>
<text x="351.77" y="289.3" font-size="9.6" text-anchor="middle">Time (UT)</text>
</g>
<g>
<g clip-path="url(#cp2)" fill="none" stroke="#1a1a1a" stroke-width="0.82">
<path d="M680.15 49.7 L464.1 274.34" stroke-dasharray="9.7 3.2 1.4 3.4 1.4 3.4 1.4 3.5"/>
<path d="M680.15 77.11 L464.1 270.95" stroke-dasharray="1.3 3.2"/>
<path d="M680.15 78.18 L464.1 269.28" stroke-dasharray="6.3 6.3"/>
<path d="M680.15 86.78 L464.1 269.01" stroke-dasharray="6.3 3.7 1.3 3.7"/>
</g>
<path clip-path="url(#cp2)" d="M481.4 255.6V257.6M481.4 261.6V263.6M486.4 249V251M486.4 255V257M491.4 242.5V244.5M491.4 248.5V250.5M496.4 238.2V240.2M496.4 244.2V246.2M501.4 232.7V234.7M501.4 238.7V240.7M506.4 227.9V229.9M506.4 233.9V235.9M511.4 224.7V226.7M511.4 230.7V232.7M516.4 212.9V214.9M516.4 218.9V220.9M521.4 207.4V209.4M521.4 213.4V215.4M526.4 200.8V202.8M526.4 206.8V208.8M531.4 197.5V199.5M531.4 203.5V205.5M536.4 193.6V195.6M536.4 199.6V201.6M541.4 188.2V190.2M541.4 194.2V196.2M546.4 181.8V183.8M546.4 187.8V189.8M551.4 178.8V180.8M551.4 184.8V186.8M556.4 173.7V175.7M556.4 179.7V181.7M561.4 170.1V172.1M561.4 176.1V178.1M566.4 164.7V166.7M566.4 170.7V172.7M571.4 161.1V163.1M571.4 167.1V169.1M576.4 155V157M576.4 161V163M581.4 151.4V153.4M581.4 157.4V159.4" stroke="#ff8888" stroke-width="1.0" fill="none"/>
<g clip-path="url(#cp2)" fill="none" stroke="#ff1414" stroke-width="0.95"><circle cx="481.4" cy="259.6" r="1.78"/><circle cx="486.4" cy="253" r="1.78"/><circle cx="491.4" cy="246.5" r="1.78"/><circle cx="496.4" cy="242.2" r="1.78"/><circle cx="501.4" cy="236.7" r="1.78"/><circle cx="506.4" cy="231.9" r="1.78"/><circle cx="511.4" cy="228.7" r="1.78"/><circle cx="516.4" cy="216.9" r="1.78"/><circle cx="521.4" cy="211.4" r="1.78"/><circle cx="526.4" cy="204.8" r="1.78"/><circle cx="531.4" cy="201.5" r="1.78"/><circle cx="536.4" cy="197.6" r="1.78"/><circle cx="541.4" cy="192.2" r="1.78"/><circle cx="546.4" cy="185.8" r="1.78"/><circle cx="551.4" cy="182.8" r="1.78"/><circle cx="556.4" cy="177.7" r="1.78"/><circle cx="561.4" cy="174.1" r="1.78"/><circle cx="566.4" cy="168.7" r="1.78"/><circle cx="571.4" cy="165.1" r="1.78"/><circle cx="576.4" cy="159" r="1.78"/><circle cx="581.4" cy="155.4" r="1.78"/></g>
<path clip-path="url(#cp2)" d="M0 0" stroke="#8c8cff" stroke-width="1.0" fill="none"/>
<g clip-path="url(#cp2)" fill="none" stroke="#1616ff" stroke-width="0.95"><circle cx="481.4" cy="265.6" r="1.78"/><circle cx="486.4" cy="256.5" r="1.78"/><circle cx="491.4" cy="248.8" r="1.78"/><circle cx="496.4" cy="243.1" r="1.78"/><circle cx="501.4" cy="235.5" r="1.78"/><circle cx="506.4" cy="228.9" r="1.78"/><circle cx="511.4" cy="224.7" r="1.78"/><circle cx="516.4" cy="220.5" r="1.78"/><circle cx="521.4" cy="216.9" r="1.78"/><circle cx="526.4" cy="212.6" r="1.78"/><circle cx="531.4" cy="208.8" r="1.78"/><circle cx="536.4" cy="203.6" r="1.78"/><circle cx="541.4" cy="199.4" r="1.78"/><circle cx="546.4" cy="195.2" r="1.78"/><circle cx="551.4" cy="190.4" r="1.78"/><circle cx="556.4" cy="187.3" r="1.78"/><circle cx="561.4" cy="184.3" r="1.78"/><circle cx="566.4" cy="178.7" r="1.78"/><circle cx="571.4" cy="175.9" r="1.78"/><circle cx="576.4" cy="173" r="1.78"/><circle cx="581.4" cy="172.3" r="1.78"/></g>
<path clip-path="url(#cp2)" d="M0 0" stroke="#7aee7a" stroke-width="1.0" fill="none"/>
<g clip-path="url(#cp2)" fill="none" stroke="#08ec08" stroke-width="0.95"><circle cx="481.4" cy="260.8" r="1.78"/><circle cx="486.4" cy="254.2" r="1.78"/><circle cx="491.4" cy="243.4" r="1.78"/><circle cx="496.4" cy="239.8" r="1.78"/><circle cx="501.4" cy="234.3" r="1.78"/><circle cx="506.4" cy="230.7" r="1.78"/><circle cx="511.4" cy="225.9" r="1.78"/><circle cx="516.4" cy="219.9" r="1.78"/><circle cx="521.4" cy="217.2" r="1.78"/><circle cx="526.4" cy="212.2" r="1.78"/><circle cx="531.4" cy="207.4" r="1.78"/><circle cx="536.4" cy="203" r="1.78"/><circle cx="541.4" cy="199.4" r="1.78"/><circle cx="546.4" cy="195.2" r="1.78"/><circle cx="551.4" cy="191.6" r="1.78"/><circle cx="556.4" cy="186.7" r="1.78"/><circle cx="561.4" cy="184.3" r="1.78"/><circle cx="566.4" cy="181.3" r="1.78"/><circle cx="571.4" cy="178.9" r="1.78"/><circle cx="576.4" cy="172.3" r="1.78"/><circle cx="581.4" cy="166.3" r="1.78"/></g>
<path clip-path="url(#cp2)" d="M0 0" stroke="#ffe07a" stroke-width="1.0" fill="none"/>
<g clip-path="url(#cp2)" fill="none" stroke="#ffd118" stroke-width="0.95"><circle cx="481.4" cy="265" r="1.78"/><circle cx="486.4" cy="255" r="1.78"/><circle cx="491.4" cy="244" r="1.78"/><circle cx="496.4" cy="238.6" r="1.78"/><circle cx="501.4" cy="234.9" r="1.78"/><circle cx="506.4" cy="231.3" r="1.78"/><circle cx="511.4" cy="227.1" r="1.78"/><circle cx="516.4" cy="224.1" r="1.78"/><circle cx="521.4" cy="221" r="1.78"/><circle cx="526.4" cy="218" r="1.78"/><circle cx="531.4" cy="212.7" r="1.78"/><circle cx="536.4" cy="209.6" r="1.78"/><circle cx="541.4" cy="201.8" r="1.78"/><circle cx="546.4" cy="198" r="1.78"/><circle cx="551.4" cy="192.8" r="1.78"/><circle cx="556.4" cy="189.2" r="1.78"/><circle cx="561.4" cy="188" r="1.78"/><circle cx="566.4" cy="184.3" r="1.78"/><circle cx="571.4" cy="178.3" r="1.78"/><circle cx="576.4" cy="173.5" r="1.78"/><circle cx="581.4" cy="169.9" r="1.78"/></g>
<path d="M469.1 267.2v-2.5M469.1 11.5v2.5M471.18 267.2v-2.5M471.18 11.5v2.5M473.26 267.2v-2.5M473.26 11.5v2.5M475.34 267.2v-5M475.34 11.5v5M477.42 267.2v-2.5M477.42 11.5v2.5M479.5 267.2v-2.5M479.5 11.5v2.5M481.58 267.2v-2.5M481.58 11.5v2.5M483.66 267.2v-2.5M483.66 11.5v2.5M485.74 267.2v-2.5M485.74 11.5v2.5M487.82 267.2v-5M487.82 11.5v5M489.9 267.2v-2.5M489.9 11.5v2.5M491.98 267.2v-2.5M491.98 11.5v2.5M494.06 267.2v-2.5M494.06 11.5v2.5M496.14 267.2v-2.5M496.14 11.5v2.5M498.22 267.2v-2.5M498.22 11.5v2.5M500.3 267.2v-5M500.3 11.5v5M502.38 267.2v-2.5M502.38 11.5v2.5M504.46 267.2v-2.5M504.46 11.5v2.5M506.54 267.2v-2.5M506.54 11.5v2.5M508.62 267.2v-2.5M508.62 11.5v2.5M510.7 267.2v-2.5M510.7 11.5v2.5M512.78 267.2v-5M512.78 11.5v5M514.86 267.2v-2.5M514.86 11.5v2.5M516.94 267.2v-2.5M516.94 11.5v2.5M519.02 267.2v-2.5M519.02 11.5v2.5M521.1 267.2v-2.5M521.1 11.5v2.5M523.18 267.2v-2.5M523.18 11.5v2.5M525.26 267.2v-5M525.26 11.5v5M527.34 267.2v-2.5M527.34 11.5v2.5M529.42 267.2v-2.5M529.42 11.5v2.5M531.5 267.2v-2.5M531.5 11.5v2.5M533.58 267.2v-2.5M533.58 11.5v2.5M535.66 267.2v-2.5M535.66 11.5v2.5M537.74 267.2v-5M537.74 11.5v5M539.82 267.2v-2.5M539.82 11.5v2.5M541.9 267.2v-2.5M541.9 11.5v2.5M543.98 267.2v-2.5M543.98 11.5v2.5M546.06 267.2v-2.5M546.06 11.5v2.5M548.14 267.2v-2.5M548.14 11.5v2.5M550.22 267.2v-5M550.22 11.5v5M552.3 267.2v-2.5M552.3 11.5v2.5M554.38 267.2v-2.5M554.38 11.5v2.5M556.46 267.2v-2.5M556.46 11.5v2.5M558.54 267.2v-2.5M558.54 11.5v2.5M560.62 267.2v-2.5M560.62 11.5v2.5M562.7 267.2v-5M562.7 11.5v5M564.78 267.2v-2.5M564.78 11.5v2.5M566.86 267.2v-2.5M566.86 11.5v2.5M568.94 267.2v-2.5M568.94 11.5v2.5M571.02 267.2v-2.5M571.02 11.5v2.5M573.1 267.2v-2.5M573.1 11.5v2.5M575.18 267.2v-5M575.18 11.5v5M577.26 267.2v-2.5M577.26 11.5v2.5M579.34 267.2v-2.5M579.34 11.5v2.5M581.42 267.2v-2.5M581.42 11.5v2.5M583.5 267.2v-2.5M583.5 11.5v2.5M585.58 267.2v-2.5M585.58 11.5v2.5M587.66 267.2v-5M587.66 11.5v5M589.74 267.2v-2.5M589.74 11.5v2.5M591.82 267.2v-2.5M591.82 11.5v2.5M593.9 267.2v-2.5M593.9 11.5v2.5M595.98 267.2v-2.5M595.98 11.5v2.5M598.06 267.2v-2.5M598.06 11.5v2.5M600.14 267.2v-5M600.14 11.5v5M602.22 267.2v-2.5M602.22 11.5v2.5M604.3 267.2v-2.5M604.3 11.5v2.5M606.38 267.2v-2.5M606.38 11.5v2.5M608.46 267.2v-2.5M608.46 11.5v2.5M610.54 267.2v-2.5M610.54 11.5v2.5M612.62 267.2v-5M612.62 11.5v5M614.7 267.2v-2.5M614.7 11.5v2.5M616.78 267.2v-2.5M616.78 11.5v2.5M618.86 267.2v-2.5M618.86 11.5v2.5M620.94 267.2v-2.5M620.94 11.5v2.5M623.02 267.2v-2.5M623.02 11.5v2.5M625.1 267.2v-5M625.1 11.5v5M627.18 267.2v-2.5M627.18 11.5v2.5M629.26 267.2v-2.5M629.26 11.5v2.5M631.34 267.2v-2.5M631.34 11.5v2.5M633.42 267.2v-2.5M633.42 11.5v2.5M635.5 267.2v-2.5M635.5 11.5v2.5M637.58 267.2v-5M637.58 11.5v5M639.66 267.2v-2.5M639.66 11.5v2.5M641.74 267.2v-2.5M641.74 11.5v2.5M643.82 267.2v-2.5M643.82 11.5v2.5M645.9 267.2v-2.5M645.9 11.5v2.5M647.98 267.2v-2.5M647.98 11.5v2.5M650.06 267.2v-5M650.06 11.5v5M652.14 267.2v-2.5M652.14 11.5v2.5M654.22 267.2v-2.5M654.22 11.5v2.5M656.3 267.2v-2.5M656.3 11.5v2.5M658.38 267.2v-2.5M658.38 11.5v2.5M660.46 267.2v-2.5M660.46 11.5v2.5M662.54 267.2v-5M662.54 11.5v5M664.62 267.2v-2.5M664.62 11.5v2.5M666.7 267.2v-2.5M666.7 11.5v2.5M668.78 267.2v-2.5M668.78 11.5v2.5M670.86 267.2v-2.5M670.86 11.5v2.5M672.94 267.2v-2.5M672.94 11.5v2.5M469.1 267.2h4.4M469.1 254.41h2.3M469.1 241.63h2.3M469.1 228.84h2.3M469.1 216.06h4.4M469.1 203.27h2.3M469.1 190.49h2.3M469.1 177.7h2.3M469.1 164.92h4.4M469.1 152.13h2.3M469.1 139.35h2.3M469.1 126.56h2.3M469.1 113.78h4.4M469.1 100.99h2.3M469.1 88.21h2.3M469.1 75.42h2.3M469.1 62.64h4.4M469.1 49.85h2.3M469.1 37.07h2.3M469.1 24.28h2.3M469.1 11.5h4.4" stroke="#000" stroke-width="0.9" fill="none"/>
<path d="M675.15 267.2h-4.4M675.15 258.31h-2.2M675.15 249.41h-2.2M675.15 240.52h-2.2M675.15 231.62h-4.4M675.15 222.73h-2.2M675.15 213.83h-2.2M675.15 204.94h-2.2M675.15 196.04h-4.4M675.15 187.15h-2.2M675.15 178.25h-2.2M675.15 169.36h-2.2M675.15 160.47h-4.4M675.15 151.57h-2.2M675.15 142.68h-2.2M675.15 133.78h-2.2M675.15 124.89h-4.4M675.15 115.99h-2.2M675.15 107.1h-2.2M675.15 98.2h-2.2M675.15 89.31h-4.4M675.15 80.41h-2.2M675.15 71.52h-2.2M675.15 62.63h-2.2M675.15 53.73h-4.4M675.15 44.84h-2.2M675.15 35.94h-2.2M675.15 27.05h-2.2M675.15 18.15h-4.4" stroke="#7d8ca3" stroke-width="0.9" fill="none"/>
<path d="M675.15 11.5V267.2" stroke="#7d8ca3" stroke-width="1.05" fill="none"/>
<path d="M675.45 11.5H469.1V267.2H675.45" stroke="#000" stroke-width="1.15" fill="none" stroke-linejoin="miter"/>
<path d="M484.5 28.5h9.4 M498.4 28.5h1.1 M502.6 28.5h1.1 M507.2 28.5h1.1" stroke="#111" stroke-width="1" fill="none"/>
<circle cx="496.1" cy="28.5" r="2.9" fill="none" stroke="#ff1414" stroke-width="1.0"/>
<text x="517.6" y="31.2" font-size="9.95">P<tspan dy="2.8" font-size="6.8">1</tspan><tspan dy="-2.8" dx="-0.5"> (Vel = 854±31 km/s)</tspan></text>
<path d="M484.7 38.5h1.1M489.35 38.5h1.1M494 38.5h1.1M498.65 38.5h1.1M503.3 38.5h1.1M507.95 38.5h1.1" stroke="#111" stroke-width="1" fill="none"/>
<circle cx="496.1" cy="38.5" r="2.9" fill="none" stroke="#1616ff" stroke-width="1.0"/>
<text x="517.6" y="41.2" font-size="9.95">P<tspan dy="2.8" font-size="6.8">2</tspan><tspan dy="-2.8" dx="-0.5"> (Vel = 737±3.0 km/s)</tspan></text>
<path d="M484.5 48.4h6.2 M497.3 48.4h6.6 M510.3 48.4h1.1" stroke="#111" stroke-width="1" fill="none"/>
<circle cx="496.1" cy="48.4" r="2.9" fill="none" stroke="#08ec08" stroke-width="1.0"/>
<text x="517.6" y="51.1" font-size="9.95">P<tspan dy="2.8" font-size="6.8">3</tspan><tspan dy="-2.8" dx="-0.5"> (Vel = 726±22 km/s)</tspan></text>
<path d="M484.5 58h6.2 M494.4 58h1.1 M499.2 58h6.2 M509.2 58h1.1" stroke="#111" stroke-width="1" fill="none"/>
<circle cx="496.1" cy="58" r="2.9" fill="none" stroke="#ffd118" stroke-width="1.0"/>
<text x="517.6" y="60.7" font-size="9.95">P<tspan dy="2.8" font-size="6.8">4</tspan><tspan dy="-2.8" dx="-0.5"> (Vel = 689±10 km/s)</tspan></text>
<text x="600.9" y="254.3" font-size="13.5">AIA: 304Å</text>
<text x="475.34" y="279.2" font-size="9.6" text-anchor="middle">17:45</text>
<text x="512.78" y="279.2" font-size="9.6" text-anchor="middle">17:48</text>
<text x="550.22" y="279.2" font-size="9.6" text-anchor="middle">17:51</text>
<text x="587.66" y="279.2" font-size="9.6" text-anchor="middle">17:54</text>
<text x="625.1" y="279.2" font-size="9.6" text-anchor="middle">17:57</text>
<text x="662.54" y="279.2" font-size="9.6" text-anchor="middle">18:00</text>
<text x="572.12" y="289.3" font-size="9.6" text-anchor="middle">Time (UT)</text>
<text x="677.25" y="267.55" font-size="9.6" fill="#63748e">0.0</text>
<text x="677.25" y="235.27" font-size="9.6" fill="#63748e">0.2</text>
<text x="677.25" y="199.69" font-size="9.6" fill="#63748e">0.4</text>
<text x="677.25" y="164.12" font-size="9.6" fill="#63748e">0.6</text>
<text x="677.25" y="128.54" font-size="9.6" fill="#63748e">0.8</text>
<text x="677.25" y="92.96" font-size="9.6" fill="#63748e">1.0</text>
<text x="677.25" y="57.38" font-size="9.6" fill="#63748e">1.2</text>
<text x="677.25" y="21.8" font-size="9.6" fill="#63748e">1.4</text>
<text transform="translate(699.5 139.35) rotate(-90)" font-size="9.6" text-anchor="middle" fill="#63748e">Distance from flare site (d/R<tspan dy="2.2" font-size="6">s</tspan><tspan dy="-2.2">)</tspan></text>
</g>
<g>
<g clip-path="url(#cp3)" fill="none" stroke="#1a1a1a" stroke-width="0.82">
<path d="M239.55 343.32 L23.5 554.37" stroke-dasharray="9.7 3.2 1.4 3.4 1.4 3.4 1.4 3.5"/>
<path d="M239.55 323.49 L23.5 548.62" stroke-dasharray="1.3 3.2"/>
<path d="M239.55 287.78 L23.5 556.45" stroke-dasharray="6.3 6.3"/>
<path d="M239.55 207.33 L23.5 570.78" stroke-dasharray="6.3 3.7 1.3 3.7"/>
</g>
<path clip-path="url(#cp3)" d="M82 499.96V501.26M82 505.26V506.56M87 491.08V492.88M87 496.88V498.68M92 486.27V487.07M92 491.07V491.87M97 480.46V481.26M97 485.26V486.06M112 466.04V466.84M112 470.84V471.64M117 462.08V462.88M117 466.88V467.68M122 455.57V456.37M122 460.37V461.17M127 447.43V448.23M127 452.23V453.03M132 439.7V440.5M132 444.5V445.3M137 433.23V434.03M137 438.03V438.83M142 422.91V423.91M142 427.91V428.91M147 416.77V417.97M147 421.97V423.17M152 413.21V414.61M152 418.61V420.01M157 408.62V410.22M157 414.22V415.82M162 403.77V405.57M162 409.57V411.37M167 400.37V402.47M167 406.47V408.57M172 396.2V398.6M172 402.6V405M177 392.7V395.5M177 399.5V402.3M182 389.36V392.66M182 396.66V399.96M187 386.85V390.85M187 394.85V398.85M192 383.47V388.27M192 392.27V397.07M197 381.36V386.46M197 390.46V395.56M202 379.61V384.91M202 388.91V394.21M207 379.08V383.88M207 387.88V392.68M212 378.01V381.81M212 385.81V389.61M217 376.85V378.45M217 382.45V384.05M222 372.04V374.84M222 378.84V381.64" stroke="#ff8888" stroke-width="1.0" fill="none"/>
<g clip-path="url(#cp3)" fill="none" stroke="#ff1414" stroke-width="0.95"><circle cx="47" cy="537.44" r="1.78"/><circle cx="52" cy="527.44" r="1.78"/><circle cx="57" cy="523.49" r="1.78"/><circle cx="62" cy="520" r="1.78"/><circle cx="67" cy="515.35" r="1.78"/><circle cx="72" cy="513.02" r="1.78"/><circle cx="77" cy="507.67" r="1.78"/><circle cx="82" cy="503.26" r="1.78"/><circle cx="87" cy="494.88" r="1.78"/><circle cx="92" cy="489.07" r="1.78"/><circle cx="97" cy="483.26" r="1.78"/><circle cx="102" cy="475.81" r="1.78"/><circle cx="107" cy="470" r="1.78"/><circle cx="112" cy="468.84" r="1.78"/><circle cx="117" cy="464.88" r="1.78"/><circle cx="122" cy="458.37" r="1.78"/><circle cx="127" cy="450.23" r="1.78"/><circle cx="132" cy="442.5" r="1.78"/><circle cx="137" cy="436.03" r="1.78"/><circle cx="142" cy="425.91" r="1.78"/><circle cx="147" cy="419.97" r="1.78"/><circle cx="152" cy="416.61" r="1.78"/><circle cx="157" cy="412.22" r="1.78"/><circle cx="162" cy="407.57" r="1.78"/><circle cx="167" cy="404.47" r="1.78"/><circle cx="172" cy="400.6" r="1.78"/><circle cx="177" cy="397.5" r="1.78"/><circle cx="182" cy="394.66" r="1.78"/><circle cx="187" cy="392.85" r="1.78"/><circle cx="192" cy="390.27" r="1.78"/><circle cx="197" cy="388.46" r="1.78"/><circle cx="202" cy="386.91" r="1.78"/><circle cx="207" cy="385.88" r="1.78"/><circle cx="212" cy="383.81" r="1.78"/><circle cx="217" cy="380.45" r="1.78"/><circle cx="222" cy="376.84" r="1.78"/></g>
<path clip-path="url(#cp3)" d="M42 541.42V542.42M42 546.42V547.42M47 529.09V530.09M47 534.09V535.09M52 522.81V523.81M52 527.81V528.81M57 519.33V520.33M57 524.33V525.33M62 512.35V513.35M62 517.35V518.35M67 507.7V508.7M67 512.7V513.7M72 502.35V503.35M72 507.35V508.35M77 496.07V497.07M77 501.07V502.07M82 487.23V488.23M82 492.23V493.23M87 480.26V481.26M87 485.26V486.26M92 475.14V476.14M92 480.14V481.14M97 468.16V469.16M97 473.16V474.16M102 464.21V465.21M102 469.21V470.21M107 460.02V461.02M107 465.02V466.02M112 457V458M112 462V463M117 448.4V449.4M117 453.4V454.4M122 436.55V437.55M122 441.55V442.55M127 423.96V424.96M127 428.96V429.96M132 417.95V418.95M132 422.95V423.95M137 412.32V413.32M137 417.32V418.32M142 407.41V408.41M142 412.41V413.41M147 404.05V405.05M147 409.05V410.05M152 400.18V401.18M152 405.18V406.18M157 395.01V396.01M157 400.01V401.01M162 392.43V393.43M162 397.43V398.43M167 390.62V391.62M167 395.62V396.62M172 387.27V388.27M172 392.27V393.27M177 382.62V383.62M177 387.62V388.62M182 379V380M182 384V385M187 376.16V377.16M187 381.16V382.16M192 372.55V373.55M192 377.55V378.55M197 371V372M197 376V377M202 369.7V370.7M202 374.7V375.7M207 366.09V367.09M207 371.09V372.09M212 363.25V364.25M212 368.25V369.25M217 360.92V361.92M217 365.92V366.92M222 353.69V354.69M222 358.69V359.69" stroke="#8c8cff" stroke-width="1.0" fill="none"/>
<g clip-path="url(#cp3)" fill="none" stroke="#1616ff" stroke-width="0.95"><circle cx="42" cy="544.42" r="1.78"/><circle cx="47" cy="532.09" r="1.78"/><circle cx="52" cy="525.81" r="1.78"/><circle cx="57" cy="522.33" r="1.78"/><circle cx="62" cy="515.35" r="1.78"/><circle cx="67" cy="510.7" r="1.78"/><circle cx="72" cy="505.35" r="1.78"/><circle cx="77" cy="499.07" r="1.78"/><circle cx="82" cy="490.23" r="1.78"/><circle cx="87" cy="483.26" r="1.78"/><circle cx="92" cy="478.14" r="1.78"/><circle cx="97" cy="471.16" r="1.78"/><circle cx="102" cy="467.21" r="1.78"/><circle cx="107" cy="463.02" r="1.78"/><circle cx="112" cy="460" r="1.78"/><circle cx="117" cy="451.4" r="1.78"/><circle cx="122" cy="439.55" r="1.78"/><circle cx="127" cy="426.96" r="1.78"/><circle cx="132" cy="420.95" r="1.78"/><circle cx="137" cy="415.32" r="1.78"/><circle cx="142" cy="410.41" r="1.78"/><circle cx="147" cy="407.05" r="1.78"/><circle cx="152" cy="403.18" r="1.78"/><circle cx="157" cy="398.01" r="1.78"/><circle cx="162" cy="395.43" r="1.78"/><circle cx="167" cy="393.62" r="1.78"/><circle cx="172" cy="390.27" r="1.78"/><circle cx="177" cy="385.62" r="1.78"/><circle cx="182" cy="382" r="1.78"/><circle cx="187" cy="379.16" r="1.78"/><circle cx="192" cy="375.55" r="1.78"/><circle cx="197" cy="374" r="1.78"/><circle cx="202" cy="372.7" r="1.78"/><circle cx="207" cy="369.09" r="1.78"/><circle cx="212" cy="366.25" r="1.78"/><circle cx="217" cy="363.92" r="1.78"/><circle cx="222" cy="356.69" r="1.78"/></g>
<path clip-path="url(#cp3)" d="M0 0" stroke="#7aee7a" stroke-width="1.0" fill="none"/>
<g clip-path="url(#cp3)" fill="none" stroke="#08ec08" stroke-width="0.95"><circle cx="42" cy="540.47" r="1.78"/><circle cx="47" cy="531.63" r="1.78"/><circle cx="52" cy="524.65" r="1.78"/><circle cx="57" cy="520" r="1.78"/><circle cx="62" cy="511.86" r="1.78"/><circle cx="67" cy="506.05" r="1.78"/><circle cx="72" cy="499.07" r="1.78"/><circle cx="77" cy="491.4" r="1.78"/><circle cx="82" cy="482.09" r="1.78"/><circle cx="87" cy="475.81" r="1.78"/><circle cx="92" cy="468.14" r="1.78"/><circle cx="97" cy="463.49" r="1.78"/><circle cx="102" cy="456.05" r="1.78"/><circle cx="107" cy="449.53" r="1.78"/><circle cx="112" cy="444.85" r="1.78"/><circle cx="117" cy="438.33" r="1.78"/><circle cx="122" cy="429.41" r="1.78"/><circle cx="127" cy="419.98" r="1.78"/><circle cx="132" cy="412.22" r="1.78"/><circle cx="137" cy="404.47" r="1.78"/><circle cx="142" cy="398.79" r="1.78"/><circle cx="147" cy="392.85" r="1.78"/><circle cx="152" cy="388.46" r="1.78"/><circle cx="157" cy="379.42" r="1.78"/><circle cx="162" cy="374.77" r="1.78"/><circle cx="167" cy="370.38" r="1.78"/><circle cx="172" cy="366.25" r="1.78"/><circle cx="177" cy="361.86" r="1.78"/><circle cx="182" cy="357.47" r="1.78"/><circle cx="187" cy="355.4" r="1.78"/><circle cx="192" cy="350.24" r="1.78"/><circle cx="197" cy="346.88" r="1.78"/><circle cx="202" cy="339.9" r="1.78"/><circle cx="207" cy="337.84" r="1.78"/><circle cx="212" cy="332.16" r="1.78"/><circle cx="217" cy="327.51" r="1.78"/><circle cx="222" cy="317.95" r="1.78"/></g>
<path clip-path="url(#cp3)" d="M0 0" stroke="#ffe07a" stroke-width="1.0" fill="none"/>
<g clip-path="url(#cp3)" fill="none" stroke="#ffd118" stroke-width="0.95"><circle cx="42" cy="536.28" r="1.78"/><circle cx="47" cy="526.98" r="1.78"/><circle cx="52" cy="522.33" r="1.78"/><circle cx="57" cy="518.84" r="1.78"/><circle cx="62" cy="507.21" r="1.78"/><circle cx="67" cy="499.07" r="1.78"/><circle cx="72" cy="490.93" r="1.78"/><circle cx="77" cy="482.79" r="1.78"/><circle cx="82" cy="474.65" r="1.78"/><circle cx="87" cy="466.51" r="1.78"/><circle cx="92" cy="458.37" r="1.78"/><circle cx="97" cy="449.77" r="1.78"/><circle cx="102" cy="440.29" r="1.78"/><circle cx="107" cy="432" r="1.78"/><circle cx="112" cy="422.93" r="1.78"/><circle cx="117" cy="416.87" r="1.78"/><circle cx="122" cy="407.57" r="1.78"/><circle cx="127" cy="397.5" r="1.78"/><circle cx="132" cy="387.68" r="1.78"/><circle cx="137" cy="379.94" r="1.78"/><circle cx="142" cy="368.31" r="1.78"/><circle cx="147" cy="362.37" r="1.78"/></g>
<path d="M28.5 551.7v-2.5M28.5 296v2.5M30.58 551.7v-2.5M30.58 296v2.5M32.66 551.7v-2.5M32.66 296v2.5M34.74 551.7v-5M34.74 296v5M36.82 551.7v-2.5M36.82 296v2.5M38.9 551.7v-2.5M38.9 296v2.5M40.98 551.7v-2.5M40.98 296v2.5M43.06 551.7v-2.5M43.06 296v2.5M45.14 551.7v-2.5M45.14 296v2.5M47.22 551.7v-5M47.22 296v5M49.3 551.7v-2.5M49.3 296v2.5M51.38 551.7v-2.5M51.38 296v2.5M53.46 551.7v-2.5M53.46 296v2.5M55.54 551.7v-2.5M55.54 296v2.5M57.62 551.7v-2.5M57.62 296v2.5M59.7 551.7v-5M59.7 296v5M61.78 551.7v-2.5M61.78 296v2.5M63.86 551.7v-2.5M63.86 296v2.5M65.94 551.7v-2.5M65.94 296v2.5M68.02 551.7v-2.5M68.02 296v2.5M70.1 551.7v-2.5M70.1 296v2.5M72.18 551.7v-5M72.18 296v5M74.26 551.7v-2.5M74.26 296v2.5M76.34 551.7v-2.5M76.34 296v2.5M78.42 551.7v-2.5M78.42 296v2.5M80.5 551.7v-2.5M80.5 296v2.5M82.58 551.7v-2.5M82.58 296v2.5M84.66 551.7v-5M84.66 296v5M86.74 551.7v-2.5M86.74 296v2.5M88.82 551.7v-2.5M88.82 296v2.5M90.9 551.7v-2.5M90.9 296v2.5M92.98 551.7v-2.5M92.98 296v2.5M95.06 551.7v-2.5M95.06 296v2.5M97.14 551.7v-5M97.14 296v5M99.22 551.7v-2.5M99.22 296v2.5M101.3 551.7v-2.5M101.3 296v2.5M103.38 551.7v-2.5M103.38 296v2.5M105.46 551.7v-2.5M105.46 296v2.5M107.54 551.7v-2.5M107.54 296v2.5M109.62 551.7v-5M109.62 296v5M111.7 551.7v-2.5M111.7 296v2.5M113.78 551.7v-2.5M113.78 296v2.5M115.86 551.7v-2.5M115.86 296v2.5M117.94 551.7v-2.5M117.94 296v2.5M120.02 551.7v-2.5M120.02 296v2.5M122.1 551.7v-5M122.1 296v5M124.18 551.7v-2.5M124.18 296v2.5M126.26 551.7v-2.5M126.26 296v2.5M128.34 551.7v-2.5M128.34 296v2.5M130.42 551.7v-2.5M130.42 296v2.5M132.5 551.7v-2.5M132.5 296v2.5M134.58 551.7v-5M134.58 296v5M136.66 551.7v-2.5M136.66 296v2.5M138.74 551.7v-2.5M138.74 296v2.5M140.82 551.7v-2.5M140.82 296v2.5M142.9 551.7v-2.5M142.9 296v2.5M144.98 551.7v-2.5M144.98 296v2.5M147.06 551.7v-5M147.06 296v5M149.14 551.7v-2.5M149.14 296v2.5M151.22 551.7v-2.5M151.22 296v2.5M153.3 551.7v-2.5M153.3 296v2.5M155.38 551.7v-2.5M155.38 296v2.5M157.46 551.7v-2.5M157.46 296v2.5M159.54 551.7v-5M159.54 296v5M161.62 551.7v-2.5M161.62 296v2.5M163.7 551.7v-2.5M163.7 296v2.5M165.78 551.7v-2.5M165.78 296v2.5M167.86 551.7v-2.5M167.86 296v2.5M169.94 551.7v-2.5M169.94 296v2.5M172.02 551.7v-5M172.02 296v5M174.1 551.7v-2.5M174.1 296v2.5M176.18 551.7v-2.5M176.18 296v2.5M178.26 551.7v-2.5M178.26 296v2.5M180.34 551.7v-2.5M180.34 296v2.5M182.42 551.7v-2.5M182.42 296v2.5M184.5 551.7v-5M184.5 296v5M186.58 551.7v-2.5M186.58 296v2.5M188.66 551.7v-2.5M188.66 296v2.5M190.74 551.7v-2.5M190.74 296v2.5M192.82 551.7v-2.5M192.82 296v2.5M194.9 551.7v-2.5M194.9 296v2.5M196.98 551.7v-5M196.98 296v5M199.06 551.7v-2.5M199.06 296v2.5M201.14 551.7v-2.5M201.14 296v2.5M203.22 551.7v-2.5M203.22 296v2.5M205.3 551.7v-2.5M205.3 296v2.5M207.38 551.7v-2.5M207.38 296v2.5M209.46 551.7v-5M209.46 296v5M211.54 551.7v-2.5M211.54 296v2.5M213.62 551.7v-2.5M213.62 296v2.5M215.7 551.7v-2.5M215.7 296v2.5M217.78 551.7v-2.5M217.78 296v2.5M219.86 551.7v-2.5M219.86 296v2.5M221.94 551.7v-5M221.94 296v5M224.02 551.7v-2.5M224.02 296v2.5M226.1 551.7v-2.5M226.1 296v2.5M228.18 551.7v-2.5M228.18 296v2.5M230.26 551.7v-2.5M230.26 296v2.5M232.34 551.7v-2.5M232.34 296v2.5M28.5 551.7h4.4M28.5 538.92h2.3M28.5 526.13h2.3M28.5 513.35h2.3M28.5 500.56h4.4M28.5 487.78h2.3M28.5 474.99h2.3M28.5 462.21h2.3M28.5 449.42h4.4M28.5 436.64h2.3M28.5 423.85h2.3M28.5 411.07h2.3M28.5 398.28h4.4M28.5 385.5h2.3M28.5 372.71h2.3M28.5 359.93h2.3M28.5 347.14h4.4M28.5 334.36h2.3M28.5 321.57h2.3M28.5 308.79h2.3M28.5 296h4.4" stroke="#000" stroke-width="0.9" fill="none"/>
<path d="M234.55 551.7h-4.4M234.55 542.81h-2.2M234.55 533.91h-2.2M234.55 525.02h-2.2M234.55 516.12h-4.4M234.55 507.23h-2.2M234.55 498.33h-2.2M234.55 489.44h-2.2M234.55 480.54h-4.4M234.55 471.65h-2.2M234.55 462.75h-2.2M234.55 453.86h-2.2M234.55 444.97h-4.4M234.55 436.07h-2.2M234.55 427.18h-2.2M234.55 418.28h-2.2M234.55 409.39h-4.4M234.55 400.49h-2.2M234.55 391.6h-2.2M234.55 382.7h-2.2M234.55 373.81h-4.4M234.55 364.91h-2.2M234.55 356.02h-2.2M234.55 347.13h-2.2M234.55 338.23h-4.4M234.55 329.34h-2.2M234.55 320.44h-2.2M234.55 311.55h-2.2M234.55 302.65h-4.4" stroke="#7d8ca3" stroke-width="0.9" fill="none"/>
<path d="M234.55 296V551.7" stroke="#7d8ca3" stroke-width="1.05" fill="none"/>
<path d="M234.85 296H28.5V551.7H234.85" stroke="#000" stroke-width="1.15" fill="none" stroke-linejoin="miter"/>
<path d="M43.9 313h9.4 M57.8 313h1.1 M62 313h1.1 M66.6 313h1.1" stroke="#111" stroke-width="1" fill="none"/>
<circle cx="55.5" cy="313" r="2.9" fill="none" stroke="#ff1414" stroke-width="1.0"/>
<text x="74.7" y="315.7" font-size="9.7">P<tspan dy="2.8" font-size="6.8">1</tspan><tspan dy="-2.8" dx="-0.5"> (Vel = 795±31 km/s)</tspan></text>
<path d="M44.1 322.5h1.1M48.75 322.5h1.1M53.4 322.5h1.1M58.05 322.5h1.1M62.7 322.5h1.1M67.35 322.5h1.1" stroke="#111" stroke-width="1" fill="none"/>
<circle cx="55.5" cy="322.5" r="2.9" fill="none" stroke="#1616ff" stroke-width="1.0"/>
<text x="74.7" y="325.2" font-size="9.7">P<tspan dy="2.8" font-size="6.8">2</tspan><tspan dy="-2.8" dx="-0.5"> (Vel = 848±0.9 km/s)</tspan></text>
<path d="M43.9 332h6.2 M56.7 332h6.6" stroke="#111" stroke-width="1" fill="none"/>
<circle cx="55.5" cy="332" r="2.9" fill="none" stroke="#08ec08" stroke-width="1.0"/>
<text x="74.7" y="334.7" font-size="9.7">P<tspan dy="2.8" font-size="6.8">3</tspan><tspan dy="-2.8" dx="-0.5"> (Vel = 1012±0.5 km/s)</tspan></text>
<path d="M43.9 341.5h6.2 M53.8 341.5h1.1 M58.6 341.5h6.2 M68.6 341.5h1.1" stroke="#111" stroke-width="1" fill="none"/>
<circle cx="55.5" cy="341.5" r="2.9" fill="none" stroke="#ffd118" stroke-width="1.0"/>
<text x="74.7" y="344.2" font-size="9.7">P<tspan dy="2.8" font-size="6.8">4</tspan><tspan dy="-2.8" dx="-0.5"> (Vel = 1369±0.7 km/s)</tspan></text>
<text x="159.8" y="538.8" font-size="13.95">AIA: 211Å</text>
<text x="34.74" y="563.7" font-size="9.6" text-anchor="middle">17:45</text>
<text x="72.18" y="563.7" font-size="9.6" text-anchor="middle">17:48</text>
<text x="109.62" y="563.7" font-size="9.6" text-anchor="middle">17:51</text>
<text x="147.06" y="563.7" font-size="9.6" text-anchor="middle">17:54</text>
<text x="184.5" y="563.7" font-size="9.6" text-anchor="middle">17:57</text>
<text x="221.94" y="563.7" font-size="9.6" text-anchor="middle">18:00</text>
<text x="131.53" y="573.8" font-size="9.6" text-anchor="middle">Time (UT)</text>
<text x="25.8" y="552.15" font-size="9.6" text-anchor="end">0</text>
<text x="25.8" y="504.01" font-size="9.6" text-anchor="end">2</text>
<text x="25.8" y="452.87" font-size="9.6" text-anchor="end">4</text>
<text x="25.8" y="401.73" font-size="9.6" text-anchor="end">6</text>
<text x="25.8" y="350.59" font-size="9.6" text-anchor="end">8</text>
<text x="25.8" y="301.75" font-size="9.6" text-anchor="end">10</text>
<text transform="translate(8.0 423.85) rotate(-90)" font-size="9.6" text-anchor="middle">Distance from flare site (10<tspan dy="-3.6" font-size="6">5</tspan><tspan dy="3.6"> km)</tspan></text>
</g>
<g>
<g clip-path="url(#cp4)" fill="none" stroke="#1a1a1a" stroke-width="0.82">
<path d="M459.8 398.99 L243.75 554.8" stroke-dasharray="9.7 3.2 1.4 3.4 1.4 3.4 1.4 3.5"/>
<path d="M459.8 389.03 L243.75 551.75" stroke-dasharray="1.3 3.2"/>
<path d="M459.8 351.94 L243.75 553.46" stroke-dasharray="6.3 6.3"/>
<path d="M459.8 312.3 L243.75 554.43" stroke-dasharray="6.3 3.7 1.3 3.7"/>
</g>
<path clip-path="url(#cp4)" d="M0 0" stroke="#ff8888" stroke-width="1.0" fill="none"/>
<g clip-path="url(#cp4)" fill="none" stroke="#ff1414" stroke-width="0.95"><circle cx="262.25" cy="546.05" r="1.78"/><circle cx="267.25" cy="539.77" r="1.78"/><circle cx="272.25" cy="534.65" r="1.78"/><circle cx="277.25" cy="531.16" r="1.78"/><circle cx="282.25" cy="525.81" r="1.78"/><circle cx="287.25" cy="521.16" r="1.78"/><circle cx="292.25" cy="517.21" r="1.78"/><circle cx="297.25" cy="514.19" r="1.78"/><circle cx="302.25" cy="510" r="1.78"/><circle cx="307.25" cy="506.74" r="1.78"/><circle cx="312.25" cy="504.42" r="1.78"/><circle cx="317.25" cy="503.26" r="1.78"/><circle cx="322.25" cy="499.77" r="1.78"/><circle cx="327.25" cy="495.58" r="1.78"/><circle cx="332.25" cy="492.56" r="1.78"/><circle cx="337.25" cy="488.14" r="1.78"/><circle cx="342.25" cy="483.95" r="1.78"/></g>
<path clip-path="url(#cp4)" d="M0 0" stroke="#8c8cff" stroke-width="1.0" fill="none"/>
<g clip-path="url(#cp4)" fill="none" stroke="#1616ff" stroke-width="0.95"><circle cx="262.25" cy="544.42" r="1.78"/><circle cx="267.25" cy="537.44" r="1.78"/><circle cx="272.25" cy="532.33" r="1.78"/><circle cx="277.25" cy="526.98" r="1.78"/><circle cx="282.25" cy="522.33" r="1.78"/><circle cx="287.25" cy="516.98" r="1.78"/><circle cx="292.25" cy="511.4" r="1.78"/><circle cx="297.25" cy="506.74" r="1.78"/><circle cx="302.25" cy="502.09" r="1.78"/><circle cx="307.25" cy="500.7" r="1.78"/><circle cx="312.25" cy="498.6" r="1.78"/><circle cx="317.25" cy="495.12" r="1.78"/><circle cx="322.25" cy="493.26" r="1.78"/><circle cx="327.25" cy="490.93" r="1.78"/><circle cx="332.25" cy="488.14" r="1.78"/><circle cx="337.25" cy="483.49" r="1.78"/><circle cx="342.25" cy="479.77" r="1.78"/></g>
<path clip-path="url(#cp4)" d="M337.25 464.34V466.14M337.25 470.14V471.94M342.25 457.86V459.86M342.25 463.86V465.86" stroke="#7aee7a" stroke-width="1.0" fill="none"/>
<g clip-path="url(#cp4)" fill="none" stroke="#08ec08" stroke-width="0.95"><circle cx="262.25" cy="542.79" r="1.78"/><circle cx="267.25" cy="536.28" r="1.78"/><circle cx="272.25" cy="529.3" r="1.78"/><circle cx="277.25" cy="521.63" r="1.78"/><circle cx="282.25" cy="515.35" r="1.78"/><circle cx="287.25" cy="509.53" r="1.78"/><circle cx="292.25" cy="503.02" r="1.78"/><circle cx="297.25" cy="497.91" r="1.78"/><circle cx="302.25" cy="493.95" r="1.78"/><circle cx="307.25" cy="490.93" r="1.78"/><circle cx="312.25" cy="488.6" r="1.78"/><circle cx="317.25" cy="486.28" r="1.78"/><circle cx="322.25" cy="482.33" r="1.78"/><circle cx="327.25" cy="479.3" r="1.78"/><circle cx="332.25" cy="473.95" r="1.78"/><circle cx="337.25" cy="468.14" r="1.78"/><circle cx="342.25" cy="461.86" r="1.78"/></g>
<path clip-path="url(#cp4)" d="M0 0" stroke="#ffe07a" stroke-width="1.0" fill="none"/>
<g clip-path="url(#cp4)" fill="none" stroke="#ffd118" stroke-width="0.95"><circle cx="262.25" cy="541.4" r="1.78"/><circle cx="267.25" cy="532.09" r="1.78"/><circle cx="272.25" cy="525.12" r="1.78"/><circle cx="277.25" cy="517.21" r="1.78"/><circle cx="282.25" cy="510.7" r="1.78"/><circle cx="287.25" cy="503.26" r="1.78"/><circle cx="292.25" cy="495.58" r="1.78"/><circle cx="297.25" cy="488.14" r="1.78"/><circle cx="302.25" cy="483.26" r="1.78"/><circle cx="307.25" cy="479.3" r="1.78"/><circle cx="312.25" cy="474.65" r="1.78"/><circle cx="317.25" cy="471.63" r="1.78"/><circle cx="322.25" cy="468.14" r="1.78"/><circle cx="327.25" cy="462.56" r="1.78"/><circle cx="332.25" cy="457.67" r="1.78"/><circle cx="337.25" cy="452.56" r="1.78"/><circle cx="342.25" cy="447.44" r="1.78"/></g>
<path d="M248.75 551.7v-2.5M248.75 296v2.5M250.83 551.7v-2.5M250.83 296v2.5M252.91 551.7v-2.5M252.91 296v2.5M254.99 551.7v-5M254.99 296v5M257.07 551.7v-2.5M257.07 296v2.5M259.15 551.7v-2.5M259.15 296v2.5M261.23 551.7v-2.5M261.23 296v2.5M263.31 551.7v-2.5M263.31 296v2.5M265.39 551.7v-2.5M265.39 296v2.5M267.47 551.7v-5M267.47 296v5M269.55 551.7v-2.5M269.55 296v2.5M271.63 551.7v-2.5M271.63 296v2.5M273.71 551.7v-2.5M273.71 296v2.5M275.79 551.7v-2.5M275.79 296v2.5M277.87 551.7v-2.5M277.87 296v2.5M279.95 551.7v-5M279.95 296v5M282.03 551.7v-2.5M282.03 296v2.5M284.11 551.7v-2.5M284.11 296v2.5M286.19 551.7v-2.5M286.19 296v2.5M288.27 551.7v-2.5M288.27 296v2.5M290.35 551.7v-2.5M290.35 296v2.5M292.43 551.7v-5M292.43 296v5M294.51 551.7v-2.5M294.51 296v2.5M296.59 551.7v-2.5M296.59 296v2.5M298.67 551.7v-2.5M298.67 296v2.5M300.75 551.7v-2.5M300.75 296v2.5M302.83 551.7v-2.5M302.83 296v2.5M304.91 551.7v-5M304.91 296v5M306.99 551.7v-2.5M306.99 296v2.5M309.07 551.7v-2.5M309.07 296v2.5M311.15 551.7v-2.5M311.15 296v2.5M313.23 551.7v-2.5M313.23 296v2.5M315.31 551.7v-2.5M315.31 296v2.5M317.39 551.7v-5M317.39 296v5M319.47 551.7v-2.5M319.47 296v2.5M321.55 551.7v-2.5M321.55 296v2.5M323.63 551.7v-2.5M323.63 296v2.5M325.71 551.7v-2.5M325.71 296v2.5M327.79 551.7v-2.5M327.79 296v2.5M329.87 551.7v-5M329.87 296v5M331.95 551.7v-2.5M331.95 296v2.5M334.03 551.7v-2.5M334.03 296v2.5M336.11 551.7v-2.5M336.11 296v2.5M338.19 551.7v-2.5M338.19 296v2.5M340.27 551.7v-2.5M340.27 296v2.5M342.35 551.7v-5M342.35 296v5M344.43 551.7v-2.5M344.43 296v2.5M346.51 551.7v-2.5M346.51 296v2.5M348.59 551.7v-2.5M348.59 296v2.5M350.67 551.7v-2.5M350.67 296v2.5M352.75 551.7v-2.5M352.75 296v2.5M354.83 551.7v-5M354.83 296v5M356.91 551.7v-2.5M356.91 296v2.5M358.99 551.7v-2.5M358.99 296v2.5M361.07 551.7v-2.5M361.07 296v2.5M363.15 551.7v-2.5M363.15 296v2.5M365.23 551.7v-2.5M365.23 296v2.5M367.31 551.7v-5M367.31 296v5M369.39 551.7v-2.5M369.39 296v2.5M371.47 551.7v-2.5M371.47 296v2.5M373.55 551.7v-2.5M373.55 296v2.5M375.63 551.7v-2.5M375.63 296v2.5M377.71 551.7v-2.5M377.71 296v2.5M379.79 551.7v-5M379.79 296v5M381.87 551.7v-2.5M381.87 296v2.5M383.95 551.7v-2.5M383.95 296v2.5M386.03 551.7v-2.5M386.03 296v2.5M388.11 551.7v-2.5M388.11 296v2.5M390.19 551.7v-2.5M390.19 296v2.5M392.27 551.7v-5M392.27 296v5M394.35 551.7v-2.5M394.35 296v2.5M396.43 551.7v-2.5M396.43 296v2.5M398.51 551.7v-2.5M398.51 296v2.5M400.59 551.7v-2.5M400.59 296v2.5M402.67 551.7v-2.5M402.67 296v2.5M404.75 551.7v-5M404.75 296v5M406.83 551.7v-2.5M406.83 296v2.5M408.91 551.7v-2.5M408.91 296v2.5M410.99 551.7v-2.5M410.99 296v2.5M413.07 551.7v-2.5M413.07 296v2.5M415.15 551.7v-2.5M415.15 296v2.5M417.23 551.7v-5M417.23 296v5M419.31 551.7v-2.5M419.31 296v2.5M421.39 551.7v-2.5M421.39 296v2.5M423.47 551.7v-2.5M423.47 296v2.5M425.55 551.7v-2.5M425.55 296v2.5M427.63 551.7v-2.5M427.63 296v2.5M429.71 551.7v-5M429.71 296v5M431.79 551.7v-2.5M431.79 296v2.5M433.87 551.7v-2.5M433.87 296v2.5M435.95 551.7v-2.5M435.95 296v2.5M438.03 551.7v-2.5M438.03 296v2.5M440.11 551.7v-2.5M440.11 296v2.5M442.19 551.7v-5M442.19 296v5M444.27 551.7v-2.5M444.27 296v2.5M446.35 551.7v-2.5M446.35 296v2.5M448.43 551.7v-2.5M448.43 296v2.5M450.51 551.7v-2.5M450.51 296v2.5M452.59 551.7v-2.5M452.59 296v2.5M248.75 551.7h4.4M248.75 538.92h2.3M248.75 526.13h2.3M248.75 513.35h2.3M248.75 500.56h4.4M248.75 487.78h2.3M248.75 474.99h2.3M248.75 462.21h2.3M248.75 449.42h4.4M248.75 436.64h2.3M248.75 423.85h2.3M248.75 411.07h2.3M248.75 398.28h4.4M248.75 385.5h2.3M248.75 372.71h2.3M248.75 359.93h2.3M248.75 347.14h4.4M248.75 334.36h2.3M248.75 321.57h2.3M248.75 308.79h2.3M248.75 296h4.4" stroke="#000" stroke-width="0.9" fill="none"/>
<path d="M454.8 551.7h-4.4M454.8 542.81h-2.2M454.8 533.91h-2.2M454.8 525.02h-2.2M454.8 516.12h-4.4M454.8 507.23h-2.2M454.8 498.33h-2.2M454.8 489.44h-2.2M454.8 480.54h-4.4M454.8 471.65h-2.2M454.8 462.75h-2.2M454.8 453.86h-2.2M454.8 444.97h-4.4M454.8 436.07h-2.2M454.8 427.18h-2.2M454.8 418.28h-2.2M454.8 409.39h-4.4M454.8 400.49h-2.2M454.8 391.6h-2.2M454.8 382.7h-2.2M454.8 373.81h-4.4M454.8 364.91h-2.2M454.8 356.02h-2.2M454.8 347.13h-2.2M454.8 338.23h-4.4M454.8 329.34h-2.2M454.8 320.44h-2.2M454.8 311.55h-2.2M454.8 302.65h-4.4" stroke="#7d8ca3" stroke-width="0.9" fill="none"/>
<path d="M454.8 296V551.7" stroke="#7d8ca3" stroke-width="1.05" fill="none"/>
<path d="M455.1 296H248.75V551.7H455.1" stroke="#000" stroke-width="1.15" fill="none" stroke-linejoin="miter"/>
<path d="M264.15 313h9.4 M278.05 313h1.1 M282.25 313h1.1 M286.85 313h1.1" stroke="#111" stroke-width="1" fill="none"/>
<circle cx="275.75" cy="313" r="2.9" fill="none" stroke="#ff1414" stroke-width="1.0"/>
<text x="294.95" y="315.7" font-size="9.7">P<tspan dy="2.8" font-size="6.8">1</tspan><tspan dy="-2.8" dx="-0.5"> (Vel = 612±29 km/s)</tspan></text>
<path d="M264.35 322.5h1.1M269 322.5h1.1M273.65 322.5h1.1M278.3 322.5h1.1M282.95 322.5h1.1M287.6 322.5h1.1" stroke="#111" stroke-width="1" fill="none"/>
<circle cx="275.75" cy="322.5" r="2.9" fill="none" stroke="#1616ff" stroke-width="1.0"/>
<text x="294.95" y="325.2" font-size="9.7">P<tspan dy="2.8" font-size="6.8">2</tspan><tspan dy="-2.8" dx="-0.5"> (Vel = 610±0.9 km/s)</tspan></text>
<path d="M264.15 332h6.2 M276.95 332h6.6" stroke="#111" stroke-width="1" fill="none"/>
<circle cx="275.75" cy="332" r="2.9" fill="none" stroke="#08ec08" stroke-width="1.0"/>
<text x="294.95" y="334.7" font-size="9.7">P<tspan dy="2.8" font-size="6.8">3</tspan><tspan dy="-2.8" dx="-0.5"> (Vel = 731±31 km/s)</tspan></text>
<path d="M264.15 341.5h6.2 M274.05 341.5h1.1 M278.85 341.5h6.2 M288.85 341.5h1.1" stroke="#111" stroke-width="1" fill="none"/>
<circle cx="275.75" cy="341.5" r="2.9" fill="none" stroke="#ffd118" stroke-width="1.0"/>
<text x="294.95" y="344.2" font-size="9.7">P<tspan dy="2.8" font-size="6.8">4</tspan><tspan dy="-2.8" dx="-0.5"> (Vel = 914±14 km/s)</tspan></text>
<text x="379.8" y="538.8" font-size="13.75">AIA: 94Å</text>
<text x="254.99" y="563.7" font-size="9.6" text-anchor="middle">17:45</text>
<text x="292.43" y="563.7" font-size="9.6" text-anchor="middle">17:48</text>
<text x="329.87" y="563.7" font-size="9.6" text-anchor="middle">17:51</text>
<text x="367.31" y="563.7" font-size="9.6" text-anchor="middle">17:54</text>
<text x="404.75" y="563.7" font-size="9.6" text-anchor="middle">17:57</text>
<text x="442.19" y="563.7" font-size="9.6" text-anchor="middle">18:00</text>
<text x="351.77" y="573.8" font-size="9.6" text-anchor="middle">Time (UT)</text>
</g>
<g>
<g clip-path="url(#cp5)" fill="none" stroke="#1a1a1a" stroke-width="0.82">
<path d="M680.15 387.71 L464.1 551.33" stroke-dasharray="9.7 3.2 1.4 3.4 1.4 3.4 1.4 3.5"/>
<path d="M680.15 359.91 L464.1 554.04" stroke-dasharray="1.3 3.2"/>
<path d="M680.15 331.32 L464.1 555.08" stroke-dasharray="6.3 6.3"/>
<path d="M680.15 304.31 L464.1 558.7" stroke-dasharray="6.3 3.7 1.3 3.7"/>
</g>
<path clip-path="url(#cp5)" d="M0 0" stroke="#ff8888" stroke-width="1.0" fill="none"/>
<g clip-path="url(#cp5)" fill="none" stroke="#ff1414" stroke-width="0.95"><circle cx="479.9" cy="542.56" r="1.78"/><circle cx="486.55" cy="535.81" r="1.78"/><circle cx="493.2" cy="529.3" r="1.78"/><circle cx="499.85" cy="523.49" r="1.78"/><circle cx="506.5" cy="516.51" r="1.78"/><circle cx="513.15" cy="512.33" r="1.78"/><circle cx="519.8" cy="507.91" r="1.78"/><circle cx="526.45" cy="503.26" r="1.78"/><circle cx="533.1" cy="499.53" r="1.78"/><circle cx="539.75" cy="494.88" r="1.78"/><circle cx="546.4" cy="490.93" r="1.78"/><circle cx="553.05" cy="483.49" r="1.78"/></g>
<path clip-path="url(#cp5)" d="M546.4 479.49V480.79M546.4 484.79V486.09M553.05 468.39V472.19M553.05 476.19V479.99" stroke="#8c8cff" stroke-width="1.0" fill="none"/>
<g clip-path="url(#cp5)" fill="none" stroke="#1616ff" stroke-width="0.95"><circle cx="479.9" cy="542.56" r="1.78"/><circle cx="486.55" cy="536.28" r="1.78"/><circle cx="493.2" cy="528.6" r="1.78"/><circle cx="499.85" cy="521.86" r="1.78"/><circle cx="506.5" cy="514.19" r="1.78"/><circle cx="513.15" cy="507.21" r="1.78"/><circle cx="519.8" cy="501.4" r="1.78"/><circle cx="526.45" cy="495.58" r="1.78"/><circle cx="533.1" cy="491.63" r="1.78"/><circle cx="539.75" cy="487.44" r="1.78"/><circle cx="546.4" cy="482.79" r="1.78"/><circle cx="553.05" cy="474.19" r="1.78"/></g>
<path clip-path="url(#cp5)" d="M0 0" stroke="#7aee7a" stroke-width="1.0" fill="none"/>
<g clip-path="url(#cp5)" fill="none" stroke="#08ec08" stroke-width="0.95"><circle cx="479.9" cy="541.4" r="1.78"/><circle cx="486.55" cy="535.12" r="1.78"/><circle cx="493.2" cy="526.98" r="1.78"/><circle cx="499.85" cy="519.53" r="1.78"/><circle cx="506.5" cy="510.7" r="1.78"/><circle cx="513.15" cy="499.77" r="1.78"/><circle cx="519.8" cy="492.79" r="1.78"/><circle cx="526.45" cy="487.44" r="1.78"/><circle cx="533.1" cy="481.63" r="1.78"/><circle cx="539.75" cy="477.44" r="1.78"/><circle cx="546.4" cy="473.02" r="1.78"/><circle cx="553.05" cy="464.19" r="1.78"/></g>
<path clip-path="url(#cp5)" d="M0 0" stroke="#ffe07a" stroke-width="1.0" fill="none"/>
<g clip-path="url(#cp5)" fill="none" stroke="#ffd118" stroke-width="0.95"><circle cx="479.9" cy="540.93" r="1.78"/><circle cx="486.55" cy="534.42" r="1.78"/><circle cx="493.2" cy="525.81" r="1.78"/><circle cx="499.85" cy="518.14" r="1.78"/><circle cx="506.5" cy="509.07" r="1.78"/><circle cx="513.15" cy="496.74" r="1.78"/><circle cx="519.8" cy="491.4" r="1.78"/><circle cx="526.45" cy="482.79" r="1.78"/><circle cx="533.1" cy="475.12" r="1.78"/><circle cx="539.75" cy="469.3" r="1.78"/><circle cx="546.4" cy="465.35" r="1.78"/><circle cx="553.05" cy="455.35" r="1.78"/></g>
<path d="M469.1 551.7v-2.5M469.1 296v2.5M471.18 551.7v-2.5M471.18 296v2.5M473.26 551.7v-2.5M473.26 296v2.5M475.34 551.7v-5M475.34 296v5M477.42 551.7v-2.5M477.42 296v2.5M479.5 551.7v-2.5M479.5 296v2.5M481.58 551.7v-2.5M481.58 296v2.5M483.66 551.7v-2.5M483.66 296v2.5M485.74 551.7v-2.5M485.74 296v2.5M487.82 551.7v-5M487.82 296v5M489.9 551.7v-2.5M489.9 296v2.5M491.98 551.7v-2.5M491.98 296v2.5M494.06 551.7v-2.5M494.06 296v2.5M496.14 551.7v-2.5M496.14 296v2.5M498.22 551.7v-2.5M498.22 296v2.5M500.3 551.7v-5M500.3 296v5M502.38 551.7v-2.5M502.38 296v2.5M504.46 551.7v-2.5M504.46 296v2.5M506.54 551.7v-2.5M506.54 296v2.5M508.62 551.7v-2.5M508.62 296v2.5M510.7 551.7v-2.5M510.7 296v2.5M512.78 551.7v-5M512.78 296v5M514.86 551.7v-2.5M514.86 296v2.5M516.94 551.7v-2.5M516.94 296v2.5M519.02 551.7v-2.5M519.02 296v2.5M521.1 551.7v-2.5M521.1 296v2.5M523.18 551.7v-2.5M523.18 296v2.5M525.26 551.7v-5M525.26 296v5M527.34 551.7v-2.5M527.34 296v2.5M529.42 551.7v-2.5M529.42 296v2.5M531.5 551.7v-2.5M531.5 296v2.5M533.58 551.7v-2.5M533.58 296v2.5M535.66 551.7v-2.5M535.66 296v2.5M537.74 551.7v-5M537.74 296v5M539.82 551.7v-2.5M539.82 296v2.5M541.9 551.7v-2.5M541.9 296v2.5M543.98 551.7v-2.5M543.98 296v2.5M546.06 551.7v-2.5M546.06 296v2.5M548.14 551.7v-2.5M548.14 296v2.5M550.22 551.7v-5M550.22 296v5M552.3 551.7v-2.5M552.3 296v2.5M554.38 551.7v-2.5M554.38 296v2.5M556.46 551.7v-2.5M556.46 296v2.5M558.54 551.7v-2.5M558.54 296v2.5M560.62 551.7v-2.5M560.62 296v2.5M562.7 551.7v-5M562.7 296v5M564.78 551.7v-2.5M564.78 296v2.5M566.86 551.7v-2.5M566.86 296v2.5M568.94 551.7v-2.5M568.94 296v2.5M571.02 551.7v-2.5M571.02 296v2.5M573.1 551.7v-2.5M573.1 296v2.5M575.18 551.7v-5M575.18 296v5M577.26 551.7v-2.5M577.26 296v2.5M579.34 551.7v-2.5M579.34 296v2.5M581.42 551.7v-2.5M581.42 296v2.5M583.5 551.7v-2.5M583.5 296v2.5M585.58 551.7v-2.5M585.58 296v2.5M587.66 551.7v-5M587.66 296v5M589.74 551.7v-2.5M589.74 296v2.5M591.82 551.7v-2.5M591.82 296v2.5M593.9 551.7v-2.5M593.9 296v2.5M595.98 551.7v-2.5M595.98 296v2.5M598.06 551.7v-2.5M598.06 296v2.5M600.14 551.7v-5M600.14 296v5M602.22 551.7v-2.5M602.22 296v2.5M604.3 551.7v-2.5M604.3 296v2.5M606.38 551.7v-2.5M606.38 296v2.5M608.46 551.7v-2.5M608.46 296v2.5M610.54 551.7v-2.5M610.54 296v2.5M612.62 551.7v-5M612.62 296v5M614.7 551.7v-2.5M614.7 296v2.5M616.78 551.7v-2.5M616.78 296v2.5M618.86 551.7v-2.5M618.86 296v2.5M620.94 551.7v-2.5M620.94 296v2.5M623.02 551.7v-2.5M623.02 296v2.5M625.1 551.7v-5M625.1 296v5M627.18 551.7v-2.5M627.18 296v2.5M629.26 551.7v-2.5M629.26 296v2.5M631.34 551.7v-2.5M631.34 296v2.5M633.42 551.7v-2.5M633.42 296v2.5M635.5 551.7v-2.5M635.5 296v2.5M637.58 551.7v-5M637.58 296v5M639.66 551.7v-2.5M639.66 296v2.5M641.74 551.7v-2.5M641.74 296v2.5M643.82 551.7v-2.5M643.82 296v2.5M645.9 551.7v-2.5M645.9 296v2.5M647.98 551.7v-2.5M647.98 296v2.5M650.06 551.7v-5M650.06 296v5M652.14 551.7v-2.5M652.14 296v2.5M654.22 551.7v-2.5M654.22 296v2.5M656.3 551.7v-2.5M656.3 296v2.5M658.38 551.7v-2.5M658.38 296v2.5M660.46 551.7v-2.5M660.46 296v2.5M662.54 551.7v-5M662.54 296v5M664.62 551.7v-2.5M664.62 296v2.5M666.7 551.7v-2.5M666.7 296v2.5M668.78 551.7v-2.5M668.78 296v2.5M670.86 551.7v-2.5M670.86 296v2.5M672.94 551.7v-2.5M672.94 296v2.5M469.1 551.7h4.4M469.1 538.92h2.3M469.1 526.13h2.3M469.1 513.35h2.3M469.1 500.56h4.4M469.1 487.78h2.3M469.1 474.99h2.3M469.1 462.21h2.3M469.1 449.42h4.4M469.1 436.64h2.3M469.1 423.85h2.3M469.1 411.07h2.3M469.1 398.28h4.4M469.1 385.5h2.3M469.1 372.71h2.3M469.1 359.93h2.3M469.1 347.14h4.4M469.1 334.36h2.3M469.1 321.57h2.3M469.1 308.79h2.3M469.1 296h4.4" stroke="#000" stroke-width="0.9" fill="none"/>
<path d="M675.15 551.7h-4.4M675.15 542.81h-2.2M675.15 533.91h-2.2M675.15 525.02h-2.2M675.15 516.12h-4.4M675.15 507.23h-2.2M675.15 498.33h-2.2M675.15 489.44h-2.2M675.15 480.54h-4.4M675.15 471.65h-2.2M675.15 462.75h-2.2M675.15 453.86h-2.2M675.15 444.97h-4.4M675.15 436.07h-2.2M675.15 427.18h-2.2M675.15 418.28h-2.2M675.15 409.39h-4.4M675.15 400.49h-2.2M675.15 391.6h-2.2M675.15 382.7h-2.2M675.15 373.81h-4.4M675.15 364.91h-2.2M675.15 356.02h-2.2M675.15 347.13h-2.2M675.15 338.23h-4.4M675.15 329.34h-2.2M675.15 320.44h-2.2M675.15 311.55h-2.2M675.15 302.65h-4.4" stroke="#7d8ca3" stroke-width="0.9" fill="none"/>
<path d="M675.15 296V551.7" stroke="#7d8ca3" stroke-width="1.05" fill="none"/>
<path d="M675.45 296H469.1V551.7H675.45" stroke="#000" stroke-width="1.15" fill="none" stroke-linejoin="miter"/>
<path d="M484.5 313h9.4 M498.4 313h1.1 M502.6 313h1.1 M507.2 313h1.1" stroke="#111" stroke-width="1" fill="none"/>
<circle cx="496.1" cy="313" r="2.9" fill="none" stroke="#ff1414" stroke-width="1.0"/>
<text x="515.3" y="315.7" font-size="9.7">P<tspan dy="2.8" font-size="6.8">1</tspan><tspan dy="-2.8" dx="-0.5"> (Vel = 631±0.7 km/s)</tspan></text>
<path d="M484.7 322.5h1.1M489.35 322.5h1.1M494 322.5h1.1M498.65 322.5h1.1M503.3 322.5h1.1M507.95 322.5h1.1" stroke="#111" stroke-width="1" fill="none"/>
<circle cx="496.1" cy="322.5" r="2.9" fill="none" stroke="#1616ff" stroke-width="1.0"/>
<text x="515.3" y="325.2" font-size="9.7">P<tspan dy="2.8" font-size="6.8">2</tspan><tspan dy="-2.8" dx="-0.5"> (Vel = 712±48 km/s)</tspan></text>
<path d="M484.5 332h6.2 M497.3 332h6.6" stroke="#111" stroke-width="1" fill="none"/>
<circle cx="496.1" cy="332" r="2.9" fill="none" stroke="#08ec08" stroke-width="1.0"/>
<text x="515.3" y="334.7" font-size="9.7">P<tspan dy="2.8" font-size="6.8">3</tspan><tspan dy="-2.8" dx="-0.5"> (Vel = 871±13 km/s)</tspan></text>
<path d="M484.5 341.5h6.2 M494.4 341.5h1.1 M499.2 341.5h6.2 M509.2 341.5h1.1" stroke="#111" stroke-width="1" fill="none"/>
<circle cx="496.1" cy="341.5" r="2.9" fill="none" stroke="#ffd118" stroke-width="1.0"/>
<text x="515.3" y="344.2" font-size="9.7">P<tspan dy="2.8" font-size="6.8">4</tspan><tspan dy="-2.8" dx="-0.5"> (Vel = 949±18 km/s)</tspan></text>
<text x="575.6" y="538.8" font-size="14.15">XRT: Ti_poly</text>
<text x="475.34" y="563.7" font-size="9.6" text-anchor="middle">17:45</text>
<text x="512.78" y="563.7" font-size="9.6" text-anchor="middle">17:48</text>
<text x="550.22" y="563.7" font-size="9.6" text-anchor="middle">17:51</text>
<text x="587.66" y="563.7" font-size="9.6" text-anchor="middle">17:54</text>
<text x="625.1" y="563.7" font-size="9.6" text-anchor="middle">17:57</text>
<text x="662.54" y="563.7" font-size="9.6" text-anchor="middle">18:00</text>
<text x="572.12" y="573.8" font-size="9.6" text-anchor="middle">Time (UT)</text>
<text x="677.25" y="552.55" font-size="9.6" fill="#63748e">0.0</text>
<text x="677.25" y="519.77" font-size="9.6" fill="#63748e">0.2</text>
<text x="677.25" y="484.19" font-size="9.6" fill="#63748e">0.4</text>
<text x="677.25" y="448.62" font-size="9.6" fill="#63748e">0.6</text>
<text x="677.25" y="413.04" font-size="9.6" fill="#63748e">0.8</text>
<text x="677.25" y="377.46" font-size="9.6" fill="#63748e">1.0</text>
<text x="677.25" y="341.88" font-size="9.6" fill="#63748e">1.2</text>
<text x="677.25" y="306.3" font-size="9.6" fill="#63748e">1.4</text>
<text transform="translate(699.5 423.85) rotate(-90)" font-size="9.6" text-anchor="middle" fill="#63748e">Distance from flare site (d/R<tspan dy="2.2" font-size="6">s</tspan><tspan dy="-2.2">)</tspan></text>
</g>
</svg>
</body></html>
